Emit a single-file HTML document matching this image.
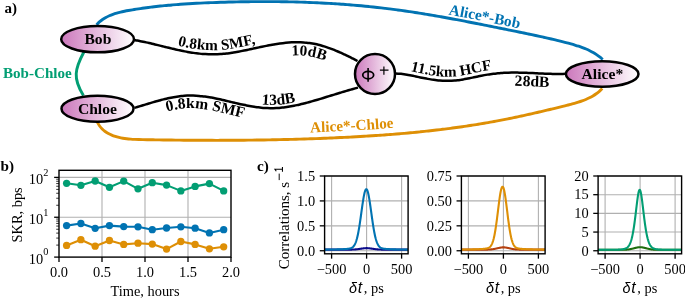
<!DOCTYPE html>
<html><head><meta charset="utf-8"><style>html,body{margin:0;padding:0;background:#fff;}svg{display:block;will-change:transform}</style></head>
<body><svg width="685" height="298" viewBox="0 0 685 298">
<defs><linearGradient id="ng" x1="0" x2="1" y1="0" y2="0"><stop offset="0" stop-color="#cc78bc"/><stop offset="1" stop-color="#ffffff"/></linearGradient>
<path id="tb" d="M93.93,22.25 L94.69,21.49 L95.8,20.37 L97.01,19.24 L98.17,18.28 L99.32,17.39 L100.49,16.55 L101.68,15.75 L102.89,15 L104.12,14.3 L105.36,13.64 L106.62,13.02 L107.89,12.44 L109.18,11.89 L110.47,11.38 L111.78,10.91 L113.09,10.46 L114.41,10.04 L115.73,9.64 L117.06,9.27 L118.4,8.93 L119.73,8.6 L121.08,8.29 L122.42,8 L123.76,7.72 L125.1,7.46 L126.44,7.21 L127.78,6.96 L129.12,6.72 L130.45,6.49 L131.79,6.27 L133.12,6.05 L134.45,5.83 L135.79,5.61 L137.13,5.41 L138.46,5.2 L139.8,5 L141.14,4.8 L142.48,4.61 L143.82,4.43 L145.16,4.24 L146.5,4.06 L147.84,3.89 L149.18,3.71 L150.52,3.55 L151.86,3.38 L153.2,3.22 L154.54,3.06 L155.89,2.91 L157.23,2.76 L158.57,2.61 L159.92,2.47 L161.26,2.33 L162.6,2.19 L163.95,2.06 L165.29,1.93 L166.64,1.8 L167.98,1.68 L169.33,1.56 L170.68,1.44 L172.02,1.33 L173.37,1.22 L174.72,1.11 L176.06,1 L177.41,0.9 L178.76,0.8 L180.1,0.7 L181.45,0.6 L182.8,0.51 L184.15,0.42 L185.49,0.33 L186.84,0.25 L188.19,0.16 L189.54,0.08 L190.89,0 L192.23,-0.07 L193.58,-0.15 L194.93,-0.22 L196.28,-0.29 L197.63,-0.36 L198.97,-0.43 L200.32,-0.49 L201.67,-0.56 L203.02,-0.62 L204.37,-0.68 L205.71,-0.74 L207.06,-0.79 L208.41,-0.85 L209.76,-0.9 L211.1,-0.96 L212.45,-1.01 L213.8,-1.06 L215.14,-1.11 L216.49,-1.15 L217.84,-1.2 L219.18,-1.25 L220.53,-1.29 L221.88,-1.33 L223.23,-1.37 L224.57,-1.41 L225.92,-1.45 L227.27,-1.49 L228.61,-1.53 L229.96,-1.56 L231.3,-1.6 L232.65,-1.63 L234,-1.66 L235.34,-1.69 L236.69,-1.72 L238.04,-1.75 L239.38,-1.77 L240.73,-1.8 L242.08,-1.82 L243.42,-1.85 L244.77,-1.87 L246.12,-1.89 L247.46,-1.91 L248.81,-1.92 L250.15,-1.94 L251.5,-1.95 L252.85,-1.97 L254.19,-1.98 L255.54,-1.99 L256.88,-2 L258.23,-2 L259.58,-2.01 L260.92,-2.01 L262.27,-2.02 L263.61,-2.02 L264.96,-2.02 L266.3,-2.02 L267.65,-2.02 L268.99,-2.01 L270.34,-2.01 L271.68,-2 L273.03,-1.99 L274.37,-1.98 L275.72,-1.97 L277.06,-1.96 L278.41,-1.94 L279.75,-1.92 L281.1,-1.91 L282.44,-1.89 L283.79,-1.87 L285.13,-1.84 L286.48,-1.82 L287.82,-1.8 L289.17,-1.77 L290.51,-1.74 L291.85,-1.71 L293.2,-1.68 L294.54,-1.64 L295.89,-1.61 L297.23,-1.57 L298.57,-1.54 L299.92,-1.5 L301.26,-1.45 L302.6,-1.41 L303.95,-1.37 L305.29,-1.32 L306.63,-1.27 L307.98,-1.22 L309.32,-1.17 L310.66,-1.12 L312.01,-1.06 L313.35,-1.01 L314.69,-0.95 L316.03,-0.89 L317.38,-0.83 L318.72,-0.76 L320.06,-0.7 L321.4,-0.63 L322.74,-0.56 L324.09,-0.49 L325.43,-0.42 L326.77,-0.34 L328.11,-0.27 L329.45,-0.19 L330.79,-0.11 L332.13,-0.03 L333.48,0.05 L334.82,0.14 L336.16,0.22 L337.5,0.31 L338.84,0.4 L340.18,0.5 L341.52,0.59 L342.86,0.69 L344.2,0.78 L345.54,0.88 L346.88,0.98 L348.22,1.09 L349.56,1.19 L350.9,1.3 L352.24,1.41 L353.58,1.52 L354.91,1.63 L356.25,1.75 L357.59,1.87 L358.93,1.98 L360.27,2.11 L361.61,2.23 L362.95,2.35 L364.28,2.48 L365.62,2.61 L366.96,2.74 L368.3,2.87 L369.63,3.01 L370.97,3.14 L372.31,3.28 L373.64,3.42 L374.98,3.57 L376.32,3.71 L377.65,3.86 L378.99,4.01 L380.33,4.16 L381.66,4.31 L383,4.47 L384.33,4.63 L385.67,4.78 L387,4.95 L388.34,5.11 L389.67,5.28 L391.01,5.44 L392.34,5.61 L393.68,5.79 L395.01,5.96 L396.35,6.14 L397.68,6.32 L399.01,6.5 L400.35,6.68 L401.68,6.86 L403.01,7.05 L404.35,7.24 L405.68,7.43 L407.01,7.63 L408.34,7.82 L409.67,8.02 L411,8.22 L412.33,8.42 L413.66,8.62 L415,8.82 L416.33,9.03 L417.66,9.24 L418.98,9.45 L420.31,9.66 L421.64,9.87 L422.97,10.08 L424.3,10.3 L425.63,10.52 L426.96,10.74 L428.28,10.96 L429.61,11.18 L430.94,11.4 L432.27,11.63 L433.59,11.85 L434.92,12.08 L436.25,12.31 L437.57,12.54 L438.9,12.77 L440.22,13.01 L441.55,13.24 L442.87,13.48 L444.2,13.72 L445.52,13.95 L446.85,14.19 L448.17,14.43 L449.5,14.68 L450.82,14.92 L452.14,15.16 L453.47,15.41 L454.79,15.65 L456.11,15.9 L457.44,16.15 L458.76,16.4 L460.08,16.65 L461.4,16.9 L462.72,17.15 L464.04,17.4 L465.37,17.66 L466.69,17.91 L468.01,18.17 L469.33,18.42 L470.65,18.68 L471.97,18.94 L473.29,19.19 L474.61,19.45 L475.93,19.71 L477.25,19.97 L478.56,20.23 L479.88,20.49 L481.2,20.75 L482.52,21.01 L483.84,21.28 L485.16,21.54 L486.47,21.8 L487.79,22.06 L489.11,22.33 L490.42,22.59 L491.74,22.86 L493.06,23.12 L494.37,23.39 L495.69,23.65 L497,23.92 L498.32,24.18 L499.64,24.45 L500.95,24.71 L502.27,24.98 L503.58,25.25 L504.89,25.51 L506.21,25.78 L507.52,26.04 L508.84,26.31 L510.15,26.58 L511.46,26.84 L512.78,27.11 L514.09,27.37 L515.4,27.64 L516.72,27.91 L518.03,28.17 L519.35,28.44 L520.66,28.71 L521.97,28.98 L523.29,29.25 L524.6,29.52 L525.92,29.79 L527.23,30.06 L528.54,30.33 L529.86,30.6 L531.17,30.88 L532.49,31.15 L533.8,31.43 L535.12,31.71 L536.43,31.99 L537.74,32.27 L539.06,32.55 L540.37,32.84 L541.69,33.13 L543,33.42 L544.32,33.71 L545.63,34 L546.94,34.29 L548.26,34.59 L549.57,34.89 L550.89,35.19 L552.2,35.5 L553.52,35.8 L554.83,36.11 L556.15,36.42 L557.46,36.74 L558.77,37.06 L560.09,37.38 L561.4,37.7 L562.72,38.03 L564.03,38.36 L565.35,38.69 L566.66,39.03 L567.98,39.37 L569.29,39.72 L570.61,40.07 L571.93,40.43 L573.25,40.8 L574.57,41.18 L575.89,41.57 L577.2,41.97 L578.51,42.39 L579.82,42.81 L581.12,43.26 L582.42,43.71 L583.71,44.19 L585,44.68 L586.28,45.19 L587.55,45.73 L588.81,46.28 L590.06,46.85 L591.31,47.45 L592.54,48.08 L593.76,48.72 L594.98,49.4 L596.17,50.1 L597.35,50.84 L598.52,51.6 L599.67,52.39 L600.81,53.22 L601.95,54.09 L603.16,55.1 L604.31,56.1 L605.09,56.78" fill="none"/>
<path id="to" d="M103.06,119.26 L103.58,120.19 L104.27,121.4 L104.88,122.34 L105.41,123.03 L106.03,123.75 L106.7,124.45 L107.38,125.09 L108.11,125.7 L108.89,126.29 L109.68,126.84 L110.52,127.36 L111.41,127.87 L112.31,128.34 L113.25,128.79 L114.22,129.21 L115.21,129.61 L116.22,129.98 L117.26,130.32 L118.31,130.64 L119.39,130.94 L120.49,131.21 L121.61,131.46 L122.75,131.69 L123.91,131.9 L125.08,132.09 L126.27,132.26 L127.49,132.42 L128.71,132.55 L129.96,132.67 L131.22,132.78 L132.48,132.87 L133.77,132.95 L135.07,133.02 L136.37,133.07 L137.69,133.12 L139.02,133.17 L140.36,133.2 L141.7,133.23 L143.06,133.26 L144.42,133.28 L145.78,133.3 L147.15,133.33 L148.52,133.35 L149.88,133.37 L151.25,133.39 L152.61,133.41 L153.97,133.43 L155.33,133.45 L156.69,133.47 L158.06,133.49 L159.42,133.51 L160.77,133.53 L162.13,133.55 L163.49,133.57 L164.85,133.59 L166.21,133.6 L167.56,133.62 L168.92,133.64 L170.27,133.65 L171.63,133.67 L172.98,133.68 L174.33,133.7 L175.69,133.71 L177.04,133.73 L178.39,133.74 L179.74,133.75 L181.09,133.77 L182.44,133.78 L183.79,133.79 L185.14,133.8 L186.49,133.81 L187.83,133.82 L189.18,133.83 L190.53,133.84 L191.87,133.85 L193.22,133.86 L194.56,133.87 L195.91,133.87 L197.25,133.88 L198.6,133.89 L199.94,133.89 L201.28,133.9 L202.63,133.9 L203.97,133.91 L205.31,133.91 L206.65,133.92 L207.99,133.92 L209.33,133.92 L210.67,133.92 L212.01,133.92 L213.35,133.93 L214.69,133.93 L216.03,133.93 L217.36,133.92 L218.7,133.92 L220.04,133.92 L221.37,133.92 L222.71,133.92 L224.05,133.91 L225.38,133.91 L226.72,133.91 L228.05,133.9 L229.39,133.89 L230.72,133.89 L232.06,133.88 L233.39,133.87 L234.72,133.87 L236.06,133.86 L237.39,133.85 L238.72,133.84 L240.06,133.83 L241.39,133.82 L242.72,133.81 L244.05,133.8 L245.38,133.78 L246.72,133.77 L248.05,133.76 L249.38,133.74 L250.71,133.73 L252.04,133.71 L253.37,133.7 L254.7,133.68 L256.03,133.66 L257.36,133.64 L258.69,133.62 L260.02,133.61 L261.35,133.59 L262.68,133.57 L264.01,133.54 L265.34,133.52 L266.66,133.5 L267.99,133.48 L269.32,133.45 L270.65,133.43 L271.98,133.4 L273.31,133.38 L274.64,133.35 L275.96,133.32 L277.29,133.3 L278.62,133.27 L279.95,133.24 L281.28,133.21 L282.6,133.18 L283.93,133.15 L285.26,133.12 L286.59,133.08 L287.92,133.05 L289.24,133.02 L290.57,132.98 L291.9,132.95 L293.23,132.91 L294.56,132.87 L295.88,132.84 L297.21,132.8 L298.54,132.76 L299.87,132.72 L301.2,132.68 L302.52,132.64 L303.85,132.6 L305.18,132.55 L306.51,132.51 L307.84,132.47 L309.17,132.42 L310.5,132.38 L311.82,132.33 L313.15,132.28 L314.48,132.24 L315.81,132.19 L317.14,132.14 L318.47,132.09 L319.8,132.04 L321.13,131.98 L322.46,131.93 L323.79,131.88 L325.12,131.83 L326.45,131.77 L327.78,131.71 L329.11,131.66 L330.45,131.6 L331.78,131.54 L333.11,131.48 L334.44,131.43 L335.77,131.36 L337.11,131.3 L338.44,131.24 L339.77,131.18 L341.1,131.12 L342.44,131.05 L343.77,130.99 L345.1,130.92 L346.44,130.85 L347.77,130.78 L349.1,130.71 L350.44,130.64 L351.77,130.57 L353.11,130.5 L354.44,130.43 L355.77,130.36 L357.11,130.28 L358.44,130.2 L359.78,130.13 L361.11,130.05 L362.45,129.97 L363.78,129.89 L365.11,129.81 L366.45,129.73 L367.78,129.64 L369.12,129.56 L370.45,129.47 L371.79,129.39 L373.12,129.3 L374.46,129.21 L375.79,129.12 L377.13,129.03 L378.46,128.94 L379.8,128.85 L381.13,128.75 L382.46,128.65 L383.8,128.56 L385.13,128.46 L386.47,128.36 L387.8,128.26 L389.13,128.16 L390.47,128.05 L391.8,127.95 L393.14,127.84 L394.47,127.74 L395.8,127.63 L397.14,127.52 L398.47,127.41 L399.8,127.29 L401.13,127.18 L402.47,127.06 L403.8,126.95 L405.13,126.83 L406.46,126.71 L407.79,126.59 L409.13,126.46 L410.46,126.34 L411.79,126.21 L413.12,126.09 L414.45,125.96 L415.78,125.83 L417.11,125.7 L418.44,125.56 L419.77,125.43 L421.1,125.29 L422.43,125.16 L423.76,125.02 L425.08,124.88 L426.41,124.73 L427.74,124.59 L429.07,124.44 L430.39,124.3 L431.72,124.15 L433.05,124 L434.37,123.85 L435.7,123.69 L437.02,123.54 L438.35,123.38 L439.67,123.22 L441,123.06 L442.32,122.9 L443.65,122.73 L444.97,122.57 L446.29,122.4 L447.61,122.23 L448.93,122.06 L450.26,121.88 L451.58,121.71 L452.9,121.53 L454.22,121.35 L455.54,121.17 L456.85,120.99 L458.17,120.81 L459.49,120.62 L460.81,120.43 L462.12,120.24 L463.44,120.05 L464.76,119.86 L466.07,119.66 L467.39,119.47 L468.7,119.27 L470.01,119.06 L471.33,118.86 L472.64,118.66 L473.95,118.45 L475.26,118.24 L476.57,118.03 L477.88,117.81 L479.19,117.6 L480.5,117.38 L481.81,117.16 L483.12,116.94 L484.43,116.71 L485.73,116.49 L487.04,116.26 L488.34,116.03 L489.65,115.8 L490.95,115.56 L492.25,115.33 L493.56,115.09 L494.86,114.85 L496.16,114.6 L497.46,114.36 L498.76,114.11 L500.06,113.86 L501.36,113.61 L502.66,113.35 L503.96,113.1 L505.26,112.84 L506.56,112.58 L507.85,112.32 L509.15,112.05 L510.45,111.79 L511.75,111.52 L513.04,111.25 L514.34,110.98 L515.64,110.7 L516.93,110.43 L518.23,110.15 L519.53,109.87 L520.82,109.59 L522.12,109.31 L523.42,109.02 L524.71,108.74 L526.01,108.45 L527.31,108.16 L528.6,107.87 L529.9,107.58 L531.2,107.28 L532.5,106.99 L533.79,106.69 L535.09,106.39 L536.39,106.09 L537.69,105.79 L538.99,105.49 L540.29,105.19 L541.59,104.88 L542.89,104.57 L544.19,104.27 L545.49,103.96 L546.79,103.65 L548.09,103.33 L549.39,103.02 L550.7,102.71 L552,102.39 L553.3,102.08 L554.61,101.76 L555.91,101.44 L557.22,101.12 L558.52,100.8 L559.83,100.48 L561.14,100.16 L562.45,99.83 L563.75,99.51 L565.06,99.19 L566.36,98.86 L567.65,98.53 L568.93,98.2 L570.2,97.87 L571.47,97.53 L572.71,97.18 L573.96,96.83 L575.18,96.46 L576.39,96.09 L577.59,95.7 L578.78,95.3 L579.94,94.89 L581.1,94.47 L582.23,94.03 L583.34,93.57 L584.44,93.1 L585.52,92.6 L586.57,92.09 L587.62,91.56 L588.63,91.01 L589.63,90.44 L590.61,89.84 L591.56,89.22 L592.49,88.57 L593.41,87.9 L594.3,87.2 L595.13,86.51 L596.06,85.65 L597.07,84.66 L597.82,83.93" fill="none"/>
<path id="t1" d="M135.1,35.96 L135.5,36.03 L136.06,36.12 L136.72,36.24 L137.42,36.35 L138.07,36.47 L138.67,36.58 L139.27,36.69 L139.87,36.8 L140.47,36.92 L141.06,37.03 L141.66,37.15 L142.26,37.27 L142.86,37.39 L143.46,37.51 L144.05,37.64 L144.65,37.76 L145.25,37.89 L145.84,38.02 L146.44,38.15 L147.03,38.28 L147.63,38.41 L148.23,38.54 L148.82,38.67 L149.42,38.81 L150.01,38.95 L150.61,39.08 L151.2,39.22 L151.79,39.36 L152.39,39.5 L152.98,39.64 L153.58,39.78 L154.17,39.92 L154.76,40.07 L155.36,40.21 L155.95,40.35 L156.54,40.5 L157.14,40.64 L157.73,40.79 L158.32,40.93 L158.91,41.08 L159.5,41.22 L160.1,41.37 L160.69,41.52 L161.28,41.66 L161.87,41.81 L162.46,41.96 L163.05,42.1 L163.64,42.25 L164.23,42.4 L164.82,42.54 L165.41,42.69 L166,42.84 L166.59,42.98 L167.18,43.13 L167.77,43.27 L168.36,43.42 L168.95,43.56 L169.54,43.71 L170.13,43.85 L170.72,43.99 L171.3,44.13 L171.89,44.28 L172.48,44.42 L173.07,44.56 L173.66,44.7 L174.24,44.83 L174.83,44.97 L175.42,45.11 L176,45.24 L176.59,45.38 L177.18,45.51 L177.76,45.64 L178.35,45.78 L178.94,45.91 L179.52,46.03 L180.11,46.16 L180.69,46.29 L181.28,46.41 L181.86,46.54 L182.45,46.66 L183.03,46.78 L183.62,46.9 L184.2,47.01 L184.79,47.13 L185.37,47.24 L185.95,47.36 L186.54,47.47 L187.12,47.58 L187.7,47.68 L188.29,47.79 L188.87,47.89 L189.45,47.99 L190.03,48.09 L190.62,48.19 L191.2,48.28 L191.78,48.38 L192.36,48.47 L192.94,48.55 L193.52,48.64 L194.11,48.73 L194.69,48.81 L195.27,48.89 L195.85,48.96 L196.43,49.04 L197.01,49.11 L197.59,49.18 L198.18,49.25 L198.76,49.32 L199.34,49.38 L199.92,49.44 L200.5,49.5 L201.08,49.56 L201.66,49.61 L202.24,49.66 L202.82,49.71 L203.4,49.76 L203.98,49.8 L204.56,49.84 L205.13,49.88 L205.71,49.92 L206.29,49.95 L206.87,49.98 L207.45,50.01 L208.03,50.03 L208.6,50.06 L209.18,50.07 L209.76,50.09 L210.34,50.11 L210.91,50.12 L211.49,50.13 L212.07,50.13 L212.64,50.13 L213.22,50.13 L213.79,50.13 L214.37,50.13 L214.94,50.12 L215.52,50.1 L216.09,50.09 L216.67,50.07 L217.24,50.05 L217.81,50.03 L218.39,50 L218.96,49.97 L219.54,49.94 L220.11,49.9 L220.68,49.86 L221.25,49.82 L221.83,49.77 L222.4,49.72 L222.98,49.67 L223.55,49.62 L224.12,49.56 L224.7,49.5 L225.27,49.44 L225.85,49.37 L226.43,49.3 L227,49.23 L227.58,49.16 L228.16,49.08 L228.73,49.01 L229.31,48.92 L229.89,48.84 L230.47,48.76 L231.05,48.67 L231.63,48.58 L232.2,48.49 L232.78,48.4 L233.36,48.3 L233.95,48.2 L234.53,48.1 L235.11,48 L235.69,47.9 L236.27,47.8 L236.85,47.69 L237.44,47.58 L238.02,47.47 L238.6,47.36 L239.19,47.25 L239.77,47.14 L240.36,47.02 L240.94,46.91 L241.53,46.79 L242.12,46.67 L242.7,46.55 L243.29,46.43 L243.88,46.31 L244.47,46.19 L245.05,46.07 L245.64,45.94 L246.23,45.82 L246.82,45.69 L247.41,45.57 L248,45.44 L248.6,45.31 L249.19,45.18 L249.78,45.06 L250.37,44.93 L250.97,44.8 L251.56,44.67 L252.15,44.54 L252.75,44.42 L253.34,44.29 L253.94,44.16 L254.53,44.03 L255.13,43.9 L255.73,43.77 L256.32,43.64 L256.92,43.51 L257.52,43.39 L258.11,43.26 L258.71,43.13 L259.31,43 L259.91,42.88 L260.51,42.75 L261.11,42.63 L261.71,42.5 L262.31,42.38 L262.91,42.25 L263.51,42.13 L264.11,42.01 L264.71,41.89 L265.31,41.77 L265.91,41.65 L266.52,41.53 L267.12,41.41 L267.72,41.3 L268.33,41.18 L268.93,41.07 L269.53,40.95 L270.14,40.84 L270.74,40.73 L271.35,40.63 L271.95,40.52 L272.56,40.41 L273.17,40.31 L273.77,40.21 L274.38,40.11 L274.99,40.01 L275.59,39.91 L276.2,39.81 L276.81,39.72 L277.42,39.63 L278.03,39.54 L278.64,39.45 L279.25,39.36 L279.85,39.28 L280.46,39.2 L281.07,39.12 L281.69,39.04 L282.3,38.97 L282.91,38.9 L283.52,38.83 L284.13,38.76 L284.74,38.69 L285.36,38.63 L285.97,38.57 L286.58,38.52 L287.19,38.46 L287.81,38.41 L288.42,38.36 L289.04,38.31 L289.65,38.27 L290.26,38.23 L290.88,38.2 L291.5,38.16 L292.11,38.13 L292.73,38.1 L293.34,38.08 L293.96,38.06 L294.58,38.04 L295.19,38.03 L295.81,38.02 L296.43,38.01 L297.05,38.01 L297.66,38.01 L298.28,38.01 L298.9,38.02 L299.52,38.03 L300.14,38.05 L300.76,38.07 L301.38,38.09 L301.99,38.12 L302.61,38.15 L303.24,38.18 L303.86,38.22 L304.48,38.27 L305.1,38.32 L305.72,38.37 L306.34,38.43 L306.96,38.49 L307.58,38.55 L308.2,38.62 L308.82,38.7 L309.44,38.78 L310.06,38.86 L310.69,38.95 L311.31,39.05 L311.93,39.15 L312.55,39.25 L313.17,39.36 L313.78,39.47 L314.4,39.59 L315.02,39.71 L315.64,39.83 L316.25,39.96 L316.87,40.1 L317.48,40.23 L318.1,40.38 L318.71,40.52 L319.32,40.67 L319.93,40.82 L320.54,40.98 L321.15,41.14 L321.76,41.31 L322.37,41.47 L322.97,41.65 L323.58,41.82 L324.19,42 L324.79,42.18 L325.39,42.37 L325.99,42.55 L326.6,42.75 L327.2,42.94 L327.8,43.14 L328.39,43.34 L328.99,43.54 L329.59,43.75 L330.19,43.96 L330.78,44.17 L331.37,44.38 L331.97,44.6 L332.56,44.82 L333.15,45.04 L333.74,45.27 L334.32,45.49 L334.91,45.72 L335.5,45.96 L336.08,46.19 L336.67,46.43 L337.25,46.66 L337.83,46.9 L338.41,47.15 L338.99,47.39 L339.57,47.64 L340.15,47.88 L340.72,48.13 L341.3,48.39 L341.87,48.64 L342.44,48.89 L343.01,49.15 L343.58,49.41 L344.15,49.67 L344.71,49.93 L345.28,50.19 L345.84,50.45 L346.41,50.72 L346.97,50.98 L347.53,51.25 L348.08,51.52 L348.64,51.79 L349.2,52.06 L349.75,52.33 L350.3,52.6 L350.86,52.87 L351.4,53.14 L351.95,53.42 L352.5,53.69 L353.05,53.97 L353.59,54.24 L354.13,54.52 L354.67,54.79 L355.21,55.07 L355.75,55.35 L356.28,55.62 L356.82,55.9 L357.39,56.2 L358.01,56.52 L358.6,56.83 L359.1,57.1 L359.45,57.28" fill="none"/>
<path id="t2" d="M132.2,53.12 L132.6,53.18 L133.16,53.28 L133.79,53.39 L134.43,53.5 L135.01,53.6 L135.54,53.69 L136.08,53.8 L136.63,53.9 L137.18,54 L137.73,54.11 L138.28,54.22 L138.83,54.33 L139.39,54.44 L139.94,54.55 L140.5,54.67 L141.06,54.79 L141.61,54.9 L142.17,55.02 L142.73,55.15 L143.3,55.27 L143.86,55.39 L144.42,55.52 L144.98,55.65 L145.55,55.77 L146.12,55.9 L146.68,56.04 L147.25,56.17 L147.82,56.3 L148.39,56.43 L148.97,56.57 L149.54,56.71 L150.11,56.84 L150.69,56.98 L151.27,57.12 L151.85,57.26 L152.42,57.4 L153,57.54 L153.58,57.69 L154.16,57.83 L154.75,57.97 L155.33,58.12 L155.91,58.26 L156.5,58.41 L157.09,58.55 L157.68,58.7 L158.27,58.84 L158.85,58.99 L159.45,59.14 L160.04,59.28 L160.63,59.43 L161.23,59.58 L161.82,59.73 L162.42,59.87 L163.02,60.02 L163.62,60.17 L164.21,60.32 L164.81,60.46 L165.41,60.61 L166.02,60.76 L166.62,60.9 L167.23,61.05 L167.83,61.2 L168.44,61.34 L169.05,61.49 L169.66,61.63 L170.27,61.77 L170.88,61.92 L171.49,62.06 L172.1,62.2 L172.72,62.34 L173.33,62.48 L173.95,62.62 L174.56,62.76 L175.18,62.9 L175.81,63.03 L176.42,63.17 L177.04,63.3 L177.67,63.43 L178.29,63.57 L178.92,63.7 L179.54,63.83 L180.17,63.95 L180.8,64.08 L181.43,64.2 L182.06,64.33 L182.69,64.45 L183.32,64.57 L183.96,64.69 L184.59,64.8 L185.23,64.92 L185.87,65.03 L186.5,65.14 L187.14,65.25 L187.79,65.36 L188.43,65.46 L189.07,65.56 L189.71,65.66 L190.36,65.76 L191,65.86 L191.65,65.95 L192.29,66.04 L192.94,66.13 L193.58,66.22 L194.23,66.3 L194.88,66.38 L195.53,66.46 L196.18,66.54 L196.83,66.61 L197.48,66.68 L198.13,66.75 L198.78,66.82 L199.44,66.88 L200.09,66.94 L200.74,67 L201.4,67.05 L202.05,67.1 L202.71,67.15 L203.36,67.2 L204.02,67.24 L204.68,67.28 L205.33,67.32 L205.99,67.36 L206.65,67.39 L207.31,67.42 L207.97,67.44 L208.63,67.47 L209.29,67.49 L209.95,67.5 L210.61,67.51 L211.28,67.52 L211.94,67.53 L212.6,67.53 L213.26,67.53 L213.93,67.53 L214.59,67.52 L215.26,67.51 L215.92,67.5 L216.59,67.48 L217.26,67.46 L217.92,67.44 L218.59,67.41 L219.26,67.38 L219.92,67.34 L220.59,67.3 L221.26,67.26 L221.93,67.22 L222.59,67.17 L223.26,67.11 L223.91,67.06 L224.57,67 L225.23,66.94 L225.89,66.87 L226.55,66.8 L227.2,66.73 L227.85,66.66 L228.51,66.58 L229.16,66.5 L229.81,66.42 L230.45,66.33 L231.1,66.24 L231.74,66.15 L232.39,66.06 L233.03,65.97 L233.67,65.87 L234.3,65.77 L234.94,65.67 L235.58,65.57 L236.22,65.47 L236.85,65.36 L237.48,65.25 L238.11,65.14 L238.74,65.03 L239.37,64.92 L239.99,64.8 L240.61,64.69 L241.24,64.57 L241.86,64.45 L242.49,64.34 L243.1,64.22 L243.72,64.09 L244.34,63.97 L244.96,63.85 L245.57,63.72 L246.18,63.6 L246.79,63.48 L247.41,63.35 L248.02,63.22 L248.63,63.09 L249.23,62.97 L249.84,62.84 L250.44,62.71 L251.05,62.58 L251.65,62.45 L252.25,62.32 L252.85,62.2 L253.45,62.07 L254.05,61.94 L254.65,61.81 L255.24,61.68 L255.84,61.55 L256.43,61.42 L257.03,61.29 L257.62,61.16 L258.21,61.04 L258.8,60.91 L259.39,60.78 L259.98,60.65 L260.57,60.53 L261.16,60.4 L261.74,60.28 L262.33,60.15 L262.92,60.03 L263.5,59.9 L264.08,59.78 L264.66,59.66 L265.24,59.54 L265.82,59.42 L266.4,59.3 L266.98,59.18 L267.55,59.06 L268.13,58.95 L268.71,58.83 L269.28,58.72 L269.85,58.61 L270.42,58.5 L271,58.39 L271.57,58.28 L272.14,58.17 L272.7,58.06 L273.27,57.96 L273.83,57.86 L274.4,57.76 L274.96,57.66 L275.52,57.56 L276.08,57.46 L276.65,57.37 L277.21,57.27 L277.77,57.18 L278.32,57.09 L278.87,57.01 L279.43,56.92 L279.99,56.84 L280.54,56.76 L281.09,56.68 L281.64,56.6 L282.19,56.52 L282.74,56.45 L283.29,56.38 L283.83,56.31 L284.37,56.24 L284.92,56.18 L285.46,56.12 L286,56.06 L286.54,56 L287.08,55.95 L287.62,55.89 L288.16,55.84 L288.69,55.8 L289.22,55.75 L289.75,55.71 L290.29,55.67 L290.82,55.63 L291.35,55.6 L291.87,55.57 L292.4,55.54 L292.93,55.51 L293.45,55.49 L293.98,55.47 L294.5,55.45 L295.01,55.44 L295.54,55.42 L296.06,55.42 L296.57,55.41 L297.09,55.41 L297.6,55.41 L298.11,55.41 L298.63,55.42 L299.14,55.43 L299.65,55.44 L300.15,55.46 L300.66,55.48 L301.17,55.5 L301.68,55.52 L302.18,55.55 L302.68,55.58 L303.18,55.62 L303.69,55.66 L304.18,55.7 L304.68,55.75 L305.18,55.8 L305.67,55.85 L306.17,55.91 L306.67,55.97 L307.16,56.03 L307.65,56.1 L308.14,56.17 L308.63,56.24 L309.13,56.32 L309.62,56.4 L310.12,56.49 L310.62,56.58 L311.11,56.67 L311.61,56.77 L312.11,56.87 L312.62,56.98 L313.12,57.09 L313.62,57.2 L314.12,57.32 L314.63,57.44 L315.14,57.56 L315.65,57.69 L316.15,57.82 L316.66,57.95 L317.17,58.09 L317.68,58.23 L318.19,58.38 L318.71,58.52 L319.22,58.68 L319.73,58.83 L320.25,58.99 L320.76,59.15 L321.28,59.31 L321.79,59.48 L322.31,59.65 L322.83,59.82 L323.35,60 L323.86,60.18 L324.38,60.36 L324.9,60.55 L325.42,60.73 L325.94,60.92 L326.46,61.12 L326.98,61.31 L327.5,61.51 L328.03,61.71 L328.55,61.92 L329.07,62.12 L329.59,62.33 L330.11,62.54 L330.63,62.76 L331.16,62.97 L331.68,63.19 L332.2,63.41 L332.72,63.63 L333.25,63.86 L333.77,64.08 L334.29,64.31 L334.81,64.54 L335.33,64.78 L335.86,65.01 L336.38,65.25 L336.9,65.48 L337.42,65.72 L337.94,65.97 L338.46,66.21 L338.98,66.45 L339.5,66.7 L340.02,66.95 L340.54,67.2 L341.06,67.45 L341.58,67.7 L342.1,67.95 L342.61,68.21 L343.13,68.46 L343.65,68.72 L344.17,68.98 L344.68,69.24 L345.2,69.5 L345.71,69.76 L346.23,70.02 L346.74,70.28 L347.25,70.55 L347.77,70.81 L348.28,71.08 L348.79,71.34 L349.33,71.62 L349.93,71.93 L350.5,72.24 L351.01,72.5 L351.36,72.69" fill="none"/>
<path id="t3" d="M138.01,119.98 L138.4,119.86 L138.95,119.7 L139.59,119.5 L140.27,119.3 L140.9,119.11 L141.49,118.93 L142.08,118.75 L142.66,118.58 L143.24,118.4 L143.82,118.22 L144.4,118.04 L144.98,117.87 L145.56,117.69 L146.14,117.51 L146.72,117.33 L147.29,117.16 L147.87,116.98 L148.45,116.8 L149.02,116.63 L149.6,116.45 L150.17,116.28 L150.75,116.1 L151.32,115.93 L151.89,115.75 L152.47,115.58 L153.04,115.41 L153.61,115.24 L154.18,115.07 L154.75,114.9 L155.32,114.73 L155.89,114.56 L156.46,114.39 L157.02,114.23 L157.59,114.06 L158.15,113.9 L158.72,113.74 L159.28,113.58 L159.85,113.42 L160.41,113.26 L160.97,113.1 L161.53,112.95 L162.09,112.8 L162.65,112.64 L163.21,112.5 L163.76,112.35 L164.32,112.2 L164.88,112.06 L165.43,111.91 L165.99,111.77 L166.54,111.63 L167.09,111.5 L167.64,111.36 L168.19,111.23 L168.74,111.1 L169.29,110.97 L169.84,110.85 L170.39,110.72 L170.93,110.6 L171.47,110.48 L172.02,110.36 L172.56,110.25 L173.1,110.14 L173.65,110.03 L174.18,109.92 L174.72,109.82 L175.26,109.72 L175.8,109.62 L176.33,109.52 L176.86,109.43 L177.39,109.34 L177.93,109.25 L178.46,109.17 L178.99,109.09 L179.51,109.01 L180.04,108.94 L180.57,108.86 L181.09,108.79 L181.62,108.73 L182.14,108.67 L182.65,108.61 L183.18,108.55 L183.7,108.5 L184.21,108.45 L184.73,108.4 L185.24,108.36 L185.75,108.32 L186.27,108.28 L186.78,108.25 L187.28,108.22 L187.79,108.2 L188.3,108.17 L188.8,108.16 L189.31,108.14 L189.81,108.13 L190.31,108.12 L190.81,108.12 L191.31,108.12 L191.82,108.12 L192.33,108.13 L192.84,108.14 L193.34,108.15 L193.85,108.17 L194.36,108.19 L194.88,108.22 L195.39,108.25 L195.9,108.28 L196.42,108.31 L196.94,108.35 L197.46,108.39 L197.98,108.43 L198.5,108.48 L199.02,108.53 L199.55,108.58 L200.08,108.64 L200.61,108.7 L201.13,108.76 L201.66,108.83 L202.2,108.89 L202.73,108.96 L203.27,109.04 L203.8,109.11 L204.34,109.19 L204.88,109.27 L205.42,109.36 L205.96,109.44 L206.51,109.53 L207.05,109.62 L207.59,109.72 L208.15,109.81 L208.7,109.91 L209.24,110.01 L209.79,110.11 L210.35,110.22 L210.9,110.32 L211.46,110.43 L212.02,110.54 L212.57,110.66 L213.13,110.77 L213.7,110.89 L214.26,111 L214.82,111.12 L215.39,111.24 L215.95,111.37 L216.52,111.49 L217.09,111.62 L217.66,111.74 L218.23,111.87 L218.81,112 L219.38,112.13 L219.96,112.27 L220.54,112.4 L221.11,112.53 L221.69,112.67 L222.27,112.8 L222.86,112.94 L223.44,113.08 L224.02,113.22 L224.61,113.35 L225.2,113.5 L225.79,113.64 L226.38,113.78 L226.97,113.92 L227.56,114.06 L228.16,114.2 L228.75,114.34 L229.35,114.48 L229.94,114.63 L230.54,114.77 L231.14,114.91 L231.75,115.05 L232.35,115.2 L232.95,115.34 L233.56,115.48 L234.17,115.62 L234.78,115.76 L235.38,115.9 L235.99,116.04 L236.6,116.18 L237.22,116.32 L237.84,116.46 L238.45,116.59 L239.07,116.73 L239.69,116.86 L240.31,117 L240.93,117.13 L241.55,117.26 L242.18,117.39 L242.8,117.52 L243.43,117.65 L244.06,117.77 L244.69,117.89 L245.32,118.02 L245.95,118.14 L246.59,118.26 L247.23,118.37 L247.86,118.49 L248.5,118.6 L249.14,118.71 L249.78,118.82 L250.43,118.93 L251.07,119.03 L251.71,119.13 L252.35,119.23 L253,119.33 L253.65,119.42 L254.3,119.51 L254.94,119.6 L255.59,119.69 L256.25,119.77 L256.9,119.85 L257.55,119.93 L258.2,120 L258.86,120.07 L259.52,120.14 L260.18,120.21 L260.83,120.27 L261.49,120.33 L262.15,120.38 L262.81,120.44 L263.48,120.48 L264.14,120.53 L264.8,120.57 L265.47,120.61 L266.13,120.64 L266.8,120.67 L267.47,120.7 L268.14,120.72 L268.81,120.74 L269.48,120.76 L270.15,120.77 L270.82,120.77 L271.5,120.78 L272.17,120.77 L272.84,120.77 L273.51,120.76 L274.18,120.75 L274.85,120.73 L275.52,120.71 L276.19,120.68 L276.86,120.65 L277.53,120.62 L278.2,120.58 L278.87,120.54 L279.53,120.49 L280.2,120.44 L280.87,120.39 L281.54,120.33 L282.2,120.27 L282.87,120.21 L283.53,120.14 L284.19,120.07 L284.85,119.99 L285.51,119.91 L286.17,119.83 L286.82,119.74 L287.48,119.65 L288.14,119.56 L288.79,119.47 L289.44,119.37 L290.09,119.27 L290.74,119.16 L291.39,119.06 L292.04,118.95 L292.68,118.83 L293.32,118.72 L293.97,118.6 L294.61,118.48 L295.25,118.36 L295.89,118.23 L296.52,118.11 L297.16,117.98 L297.8,117.85 L298.43,117.71 L299.06,117.58 L299.69,117.44 L300.32,117.3 L300.95,117.16 L301.58,117.01 L302.21,116.87 L302.83,116.72 L303.46,116.57 L304.08,116.42 L304.7,116.27 L305.32,116.12 L305.94,115.96 L306.56,115.81 L307.18,115.65 L307.79,115.49 L308.4,115.33 L309.02,115.17 L309.63,115.01 L310.24,114.84 L310.85,114.68 L311.46,114.51 L312.06,114.35 L312.67,114.18 L313.28,114.01 L313.88,113.85 L314.48,113.68 L315.08,113.51 L315.69,113.34 L316.29,113.17 L316.89,113 L317.49,112.82 L318.09,112.65 L318.68,112.48 L319.28,112.3 L319.88,112.13 L320.48,111.95 L321.07,111.78 L321.67,111.6 L322.26,111.42 L322.85,111.25 L323.45,111.07 L324.04,110.89 L324.63,110.71 L325.22,110.54 L325.81,110.36 L326.4,110.18 L326.99,110 L327.58,109.82 L328.17,109.64 L328.76,109.46 L329.34,109.28 L329.93,109.1 L330.51,108.92 L331.1,108.74 L331.68,108.56 L332.26,108.38 L332.85,108.2 L333.43,108.02 L334.01,107.84 L334.59,107.66 L335.17,107.48 L335.75,107.3 L336.33,107.12 L336.91,106.94 L337.49,106.76 L338.06,106.59 L338.64,106.41 L339.22,106.23 L339.79,106.05 L340.37,105.87 L340.94,105.7 L341.51,105.52 L342.09,105.34 L342.66,105.17 L343.23,104.99 L343.8,104.82 L344.37,104.65 L344.95,104.47 L345.52,104.3 L346.08,104.13 L346.65,103.95 L347.22,103.78 L347.79,103.61 L348.36,103.44 L348.92,103.27 L349.49,103.1 L350.05,102.94 L350.62,102.77 L351.18,102.6 L351.74,102.44 L352.3,102.27 L352.87,102.11 L353.43,101.95 L353.99,101.79 L354.55,101.63 L355.11,101.47 L355.67,101.31 L356.23,101.15 L356.79,100.99 L357.34,100.84 L357.9,100.68 L358.45,100.53 L359.04,100.37 L359.69,100.2 L360.33,100.02 L360.88,99.88 L361.27,99.77" fill="none"/>
<path id="t4" d="M133.48,104.84 L133.87,104.72 L134.42,104.56 L135.06,104.37 L135.72,104.17 L136.34,103.98 L136.91,103.81 L137.48,103.64 L138.05,103.46 L138.63,103.29 L139.2,103.11 L139.78,102.94 L140.35,102.76 L140.93,102.58 L141.51,102.41 L142.08,102.23 L142.66,102.05 L143.24,101.87 L143.82,101.7 L144.4,101.52 L144.99,101.34 L145.57,101.16 L146.15,100.99 L146.73,100.81 L147.32,100.63 L147.9,100.45 L148.49,100.28 L149.07,100.1 L149.66,99.93 L150.25,99.75 L150.84,99.58 L151.42,99.4 L152.01,99.23 L152.6,99.06 L153.19,98.89 L153.79,98.72 L154.38,98.55 L154.97,98.38 L155.56,98.21 L156.16,98.04 L156.75,97.88 L157.34,97.71 L157.94,97.55 L158.53,97.39 L159.13,97.23 L159.73,97.07 L160.32,96.91 L160.92,96.76 L161.52,96.61 L162.12,96.45 L162.72,96.3 L163.32,96.15 L163.92,96.01 L164.52,95.86 L165.12,95.72 L165.72,95.58 L166.32,95.44 L166.93,95.3 L167.53,95.17 L168.13,95.04 L168.74,94.91 L169.34,94.78 L169.95,94.66 L170.55,94.54 L171.16,94.42 L171.76,94.3 L172.37,94.18 L172.98,94.07 L173.59,93.96 L174.19,93.86 L174.8,93.76 L175.41,93.66 L176.02,93.56 L176.63,93.47 L177.24,93.38 L177.85,93.29 L178.46,93.2 L179.07,93.12 L179.69,93.05 L180.3,92.97 L180.91,92.9 L181.52,92.84 L182.14,92.77 L182.75,92.72 L183.36,92.66 L183.98,92.61 L184.59,92.56 L185.21,92.52 L185.82,92.48 L186.44,92.44 L187.06,92.41 L187.67,92.39 L188.29,92.36 L188.9,92.35 L189.52,92.33 L190.14,92.32 L190.76,92.32 L191.37,92.32 L191.99,92.32 L192.6,92.33 L193.22,92.35 L193.83,92.36 L194.45,92.38 L195.06,92.41 L195.68,92.44 L196.29,92.47 L196.9,92.51 L197.52,92.55 L198.13,92.59 L198.74,92.64 L199.35,92.69 L199.96,92.75 L200.57,92.81 L201.18,92.87 L201.79,92.93 L202.4,93 L203.01,93.07 L203.62,93.15 L204.23,93.23 L204.84,93.31 L205.44,93.39 L206.05,93.47 L206.66,93.56 L207.26,93.65 L207.87,93.75 L208.48,93.84 L209.08,93.94 L209.69,94.04 L210.29,94.15 L210.89,94.25 L211.5,94.36 L212.1,94.47 L212.7,94.58 L213.31,94.7 L213.91,94.81 L214.51,94.93 L215.11,95.05 L215.71,95.17 L216.31,95.29 L216.91,95.42 L217.51,95.54 L218.11,95.67 L218.71,95.8 L219.31,95.93 L219.91,96.06 L220.51,96.19 L221.11,96.32 L221.71,96.46 L222.3,96.59 L222.9,96.73 L223.5,96.87 L224.09,97 L224.69,97.14 L225.29,97.28 L225.88,97.42 L226.48,97.56 L227.07,97.7 L227.67,97.84 L228.26,97.98 L228.86,98.12 L229.45,98.27 L230.04,98.41 L230.64,98.55 L231.23,98.69 L231.82,98.83 L232.41,98.97 L233.01,99.11 L233.6,99.26 L234.19,99.4 L234.78,99.54 L235.37,99.68 L235.96,99.81 L236.55,99.95 L237.14,100.09 L237.73,100.23 L238.32,100.36 L238.91,100.5 L239.5,100.63 L240.09,100.77 L240.68,100.9 L241.27,101.03 L241.86,101.16 L242.44,101.29 L243.03,101.42 L243.62,101.55 L244.2,101.67 L244.79,101.79 L245.38,101.92 L245.96,102.04 L246.55,102.16 L247.13,102.27 L247.72,102.39 L248.3,102.5 L248.89,102.61 L249.47,102.72 L250.06,102.83 L250.64,102.93 L251.22,103.04 L251.81,103.14 L252.39,103.24 L252.97,103.33 L253.56,103.43 L254.14,103.52 L254.72,103.61 L255.3,103.7 L255.89,103.78 L256.47,103.86 L257.05,103.94 L257.63,104.02 L258.21,104.09 L258.79,104.16 L259.37,104.23 L259.95,104.3 L260.53,104.36 L261.11,104.42 L261.69,104.48 L262.27,104.54 L262.85,104.59 L263.43,104.64 L264.01,104.68 L264.59,104.72 L265.17,104.76 L265.74,104.8 L266.32,104.83 L266.9,104.86 L267.48,104.89 L268.05,104.91 L268.63,104.93 L269.21,104.95 L269.78,104.96 L270.36,104.97 L270.93,104.97 L271.51,104.98 L272.08,104.97 L272.66,104.97 L273.23,104.96 L273.81,104.95 L274.39,104.94 L274.96,104.92 L275.54,104.89 L276.11,104.87 L276.69,104.84 L277.26,104.81 L277.84,104.77 L278.41,104.73 L278.99,104.69 L279.56,104.64 L280.14,104.59 L280.71,104.54 L281.29,104.49 L281.86,104.43 L282.44,104.36 L283.01,104.3 L283.59,104.23 L284.17,104.16 L284.74,104.08 L285.32,104 L285.9,103.92 L286.47,103.84 L287.05,103.75 L287.63,103.66 L288.2,103.57 L288.78,103.47 L289.36,103.38 L289.94,103.27 L290.51,103.17 L291.09,103.07 L291.67,102.96 L292.25,102.85 L292.82,102.73 L293.4,102.62 L293.98,102.5 L294.56,102.38 L295.14,102.26 L295.72,102.13 L296.3,102.01 L296.87,101.88 L297.45,101.75 L298.03,101.62 L298.61,101.48 L299.19,101.35 L299.77,101.21 L300.35,101.07 L300.93,100.93 L301.51,100.78 L302.09,100.64 L302.67,100.49 L303.25,100.34 L303.83,100.19 L304.41,100.04 L304.99,99.89 L305.57,99.74 L306.15,99.58 L306.73,99.43 L307.31,99.27 L307.89,99.11 L308.47,98.95 L309.05,98.79 L309.63,98.63 L310.21,98.47 L310.79,98.3 L311.37,98.14 L311.95,97.97 L312.53,97.81 L313.11,97.64 L313.69,97.47 L314.27,97.31 L314.85,97.14 L315.43,96.97 L316.01,96.8 L316.59,96.62 L317.17,96.45 L317.75,96.28 L318.33,96.11 L318.91,95.93 L319.49,95.76 L320.07,95.59 L320.65,95.41 L321.23,95.24 L321.81,95.06 L322.39,94.88 L322.97,94.71 L323.55,94.53 L324.13,94.35 L324.71,94.18 L325.29,94 L325.87,93.82 L326.44,93.64 L327.02,93.46 L327.6,93.28 L328.18,93.1 L328.76,92.93 L329.34,92.75 L329.92,92.57 L330.5,92.39 L331.08,92.21 L331.66,92.03 L332.24,91.85 L332.82,91.67 L333.4,91.49 L333.97,91.31 L334.55,91.13 L335.13,90.95 L335.71,90.78 L336.29,90.6 L336.87,90.42 L337.45,90.24 L338.03,90.06 L338.61,89.89 L339.19,89.71 L339.77,89.53 L340.35,89.36 L340.93,89.18 L341.51,89 L342.09,88.83 L342.67,88.65 L343.25,88.48 L343.83,88.31 L344.4,88.13 L344.98,87.96 L345.57,87.79 L346.14,87.62 L346.72,87.45 L347.3,87.28 L347.89,87.11 L348.47,86.94 L349.05,86.77 L349.63,86.6 L350.21,86.44 L350.79,86.27 L351.37,86.1 L351.95,85.94 L352.53,85.78 L353.11,85.62 L353.69,85.46 L354.27,85.29 L354.9,85.12 L355.58,84.94 L356.22,84.77 L356.78,84.62 L357.17,84.51" fill="none"/>
<path id="t5" d="M395.03,69.39 L395.35,69.4 L395.8,69.4 L396.35,69.4 L396.96,69.41 L397.59,69.42 L398.18,69.44 L398.74,69.46 L399.28,69.49 L399.82,69.53 L400.36,69.57 L400.89,69.61 L401.42,69.66 L401.95,69.71 L402.49,69.77 L403.02,69.83 L403.54,69.9 L404.07,69.96 L404.59,70.03 L405.11,70.11 L405.64,70.18 L406.16,70.27 L406.68,70.35 L407.2,70.43 L407.71,70.52 L408.23,70.61 L408.75,70.7 L409.26,70.8 L409.77,70.9 L410.28,70.99 L410.78,71.09 L411.3,71.19 L411.81,71.3 L412.31,71.4 L412.82,71.51 L413.32,71.61 L413.82,71.72 L414.32,71.83 L414.82,71.93 L415.32,72.04 L415.82,72.15 L416.31,72.26 L416.81,72.37 L417.3,72.48 L417.8,72.59 L418.29,72.69 L418.78,72.8 L419.27,72.91 L419.76,73.01 L420.25,73.12 L420.74,73.22 L421.23,73.33 L421.72,73.43 L422.2,73.53 L422.69,73.63 L423.17,73.73 L423.66,73.83 L424.14,73.93 L424.63,74.02 L425.11,74.12 L425.6,74.21 L426.08,74.3 L426.57,74.39 L427.05,74.48 L427.54,74.57 L428.02,74.66 L428.5,74.74 L428.99,74.83 L429.47,74.91 L429.95,74.99 L430.44,75.07 L430.92,75.15 L431.4,75.22 L431.88,75.3 L432.37,75.37 L432.85,75.44 L433.33,75.51 L433.81,75.58 L434.29,75.64 L434.77,75.71 L435.25,75.77 L435.73,75.83 L436.21,75.89 L436.69,75.94 L437.17,76 L437.65,76.05 L438.13,76.1 L438.61,76.15 L439.08,76.19 L439.56,76.24 L440.04,76.28 L440.52,76.32 L440.99,76.36 L441.47,76.39 L441.95,76.42 L442.42,76.45 L442.9,76.48 L443.37,76.51 L443.85,76.53 L444.33,76.55 L444.8,76.57 L445.27,76.59 L445.75,76.6 L446.22,76.61 L446.7,76.62 L447.17,76.62 L447.64,76.63 L448.12,76.63 L448.59,76.63 L449.06,76.62 L449.53,76.61 L450.01,76.6 L450.48,76.59 L450.95,76.57 L451.42,76.55 L451.89,76.53 L452.36,76.51 L452.83,76.48 L453.3,76.45 L453.77,76.42 L454.24,76.38 L454.71,76.34 L455.18,76.3 L455.65,76.25 L456.13,76.2 L456.6,76.15 L457.07,76.1 L457.55,76.04 L458.02,75.98 L458.49,75.92 L458.97,75.85 L459.45,75.78 L459.93,75.71 L460.4,75.64 L460.88,75.57 L461.36,75.49 L461.84,75.41 L462.33,75.33 L462.81,75.24 L463.29,75.16 L463.77,75.07 L464.25,74.98 L464.74,74.89 L465.23,74.8 L465.71,74.71 L466.2,74.61 L466.69,74.52 L467.17,74.42 L467.66,74.32 L468.16,74.22 L468.65,74.12 L469.14,74.02 L469.63,73.91 L470.12,73.81 L470.61,73.71 L471.11,73.6 L471.6,73.49 L472.1,73.39 L472.59,73.28 L473.09,73.18 L473.59,73.07 L474.09,72.96 L474.59,72.85 L475.08,72.75 L475.58,72.64 L476.08,72.53 L476.59,72.42 L477.09,72.32 L477.59,72.21 L478.1,72.11 L478.6,72 L479.1,71.9 L479.61,71.79 L480.12,71.69 L480.63,71.59 L481.14,71.49 L481.64,71.39 L482.15,71.29 L482.66,71.19 L483.17,71.1 L483.69,71 L484.2,70.91 L484.71,70.82 L485.22,70.73 L485.74,70.64 L486.25,70.56 L486.76,70.47 L487.28,70.39 L487.79,70.31 L488.31,70.23 L488.82,70.15 L489.33,70.08 L489.85,70 L490.36,69.93 L490.87,69.86 L491.39,69.79 L491.9,69.73 L492.42,69.66 L492.93,69.6 L493.44,69.54 L493.96,69.48 L494.47,69.42 L494.99,69.36 L495.5,69.31 L496.02,69.25 L496.53,69.2 L497.04,69.15 L497.56,69.1 L498.07,69.06 L498.59,69.01 L499.1,68.97 L499.62,68.93 L500.13,68.89 L500.65,68.85 L501.16,68.81 L501.68,68.78 L502.19,68.74 L502.71,68.71 L503.22,68.68 L503.74,68.65 L504.25,68.62 L504.77,68.6 L505.28,68.57 L505.8,68.55 L506.31,68.53 L506.83,68.51 L507.34,68.49 L507.86,68.48 L508.37,68.46 L508.89,68.45 L509.4,68.44 L509.92,68.43 L510.43,68.42 L510.94,68.41 L511.46,68.4 L511.97,68.39 L512.48,68.39 L513,68.39 L513.51,68.38 L514.02,68.38 L514.54,68.38 L515.05,68.38 L515.56,68.39 L516.08,68.39 L516.59,68.39 L517.1,68.4 L517.61,68.41 L518.12,68.41 L518.64,68.42 L519.15,68.43 L519.66,68.44 L520.17,68.45 L520.68,68.46 L521.19,68.47 L521.7,68.49 L522.21,68.5 L522.72,68.51 L523.23,68.53 L523.74,68.54 L524.25,68.56 L524.76,68.58 L525.27,68.6 L525.78,68.61 L526.29,68.63 L526.8,68.65 L527.31,68.67 L527.82,68.69 L528.33,68.71 L528.83,68.73 L529.34,68.75 L529.85,68.77 L530.36,68.79 L530.86,68.82 L531.37,68.84 L531.88,68.86 L532.39,68.88 L532.89,68.91 L533.4,68.93 L533.91,68.95 L534.41,68.98 L534.92,69 L535.42,69.02 L535.93,69.05 L536.43,69.07 L536.94,69.09 L537.45,69.12 L537.95,69.14 L538.45,69.16 L538.96,69.19 L539.46,69.21 L539.97,69.23 L540.47,69.26 L540.97,69.28 L541.48,69.3 L541.98,69.32 L542.48,69.34 L542.99,69.37 L543.49,69.39 L543.99,69.41 L544.49,69.43 L544.99,69.45 L545.49,69.47 L546,69.49 L546.5,69.51 L547,69.52 L547.5,69.54 L548,69.56 L548.5,69.57 L549,69.59 L549.5,69.61 L550,69.62 L550.5,69.63 L550.99,69.65 L551.49,69.66 L551.99,69.67 L552.49,69.68 L552.99,69.69 L553.48,69.7 L553.98,69.71 L554.48,69.72 L554.98,69.72 L555.47,69.73 L555.97,69.74 L556.46,69.74 L556.96,69.74 L557.45,69.74 L557.95,69.75 L558.45,69.75 L558.94,69.74 L559.43,69.74 L559.93,69.74 L560.42,69.73 L560.92,69.73 L561.41,69.72 L561.9,69.71 L562.39,69.7 L562.88,69.69 L563.4,69.68 L563.97,69.66 L564.54,69.64 L565.08,69.63 L565.53,69.61 L565.86,69.6" fill="none"/>
<path id="t6" d="M394.91,86.89 L395.26,86.9 L395.73,86.9 L396.22,86.9 L396.72,86.9 L397.16,86.91 L397.5,86.92 L397.83,86.94 L398.21,86.96 L398.59,86.98 L398.98,87.01 L399.38,87.05 L399.78,87.08 L400.17,87.12 L400.56,87.16 L400.96,87.21 L401.37,87.26 L401.79,87.31 L402.2,87.37 L402.61,87.43 L403.02,87.49 L403.44,87.55 L403.87,87.62 L404.31,87.69 L404.75,87.77 L405.18,87.84 L405.6,87.92 L406.04,88 L406.49,88.09 L406.95,88.17 L407.4,88.26 L407.85,88.35 L408.3,88.44 L408.76,88.54 L409.22,88.63 L409.7,88.73 L410.18,88.84 L410.64,88.93 L411.11,89.04 L411.59,89.14 L412.07,89.25 L412.57,89.35 L413.07,89.46 L413.55,89.57 L414.04,89.68 L414.53,89.79 L415.04,89.9 L415.55,90.01 L416.07,90.12 L416.58,90.23 L417.09,90.34 L417.6,90.45 L418.12,90.56 L418.64,90.67 L419.17,90.78 L419.69,90.88 L420.21,90.99 L420.73,91.09 L421.26,91.2 L421.79,91.3 L422.31,91.4 L422.84,91.5 L423.37,91.6 L423.9,91.7 L424.43,91.79 L424.96,91.89 L425.49,91.98 L426.03,92.08 L426.56,92.17 L427.09,92.26 L427.63,92.34 L428.17,92.43 L428.71,92.52 L429.25,92.6 L429.78,92.68 L430.32,92.76 L430.87,92.84 L431.41,92.91 L431.96,92.99 L432.5,93.06 L433.04,93.13 L433.59,93.2 L434.14,93.26 L434.69,93.33 L435.24,93.39 L435.79,93.45 L436.34,93.51 L436.89,93.56 L437.45,93.62 L438,93.67 L438.56,93.72 L439.12,93.76 L439.67,93.81 L440.23,93.85 L440.79,93.89 L441.35,93.92 L441.92,93.95 L442.48,93.98 L443.04,94.01 L443.6,94.04 L444.17,94.06 L444.73,94.08 L445.3,94.09 L445.87,94.11 L446.44,94.12 L447.01,94.12 L447.58,94.13 L448.15,94.13 L448.73,94.13 L449.3,94.12 L449.87,94.11 L450.44,94.1 L451.02,94.08 L451.6,94.06 L452.18,94.04 L452.76,94.01 L453.34,93.98 L453.91,93.95 L454.49,93.91 L455.08,93.87 L455.66,93.82 L456.25,93.77 L456.83,93.72 L457.41,93.66 L457.98,93.6 L458.55,93.54 L459.12,93.48 L459.69,93.41 L460.27,93.33 L460.84,93.26 L461.4,93.18 L461.95,93.1 L462.5,93.02 L463.07,92.94 L463.63,92.85 L464.18,92.76 L464.73,92.67 L465.27,92.58 L465.81,92.48 L466.36,92.39 L466.9,92.29 L467.44,92.19 L467.98,92.09 L468.51,91.99 L469.03,91.89 L469.57,91.79 L470.1,91.68 L470.63,91.57 L471.15,91.47 L471.67,91.36 L472.18,91.26 L472.7,91.15 L473.23,91.04 L473.74,90.93 L474.25,90.82 L474.75,90.72 L475.26,90.61 L475.77,90.5 L476.28,90.39 L476.78,90.28 L477.28,90.17 L477.77,90.07 L478.26,89.96 L478.75,89.86 L479.25,89.75 L479.74,89.64 L480.23,89.54 L480.71,89.44 L481.19,89.34 L481.67,89.24 L482.16,89.14 L482.64,89.04 L483.11,88.94 L483.58,88.85 L484.04,88.75 L484.51,88.66 L484.99,88.57 L485.45,88.48 L485.92,88.39 L486.37,88.3 L486.83,88.22 L487.28,88.14 L487.74,88.05 L488.2,87.97 L488.66,87.9 L489.11,87.82 L489.57,87.75 L490.02,87.67 L490.48,87.6 L490.93,87.53 L491.39,87.46 L491.84,87.4 L492.3,87.33 L492.76,87.27 L493.21,87.2 L493.67,87.14 L494.13,87.08 L494.59,87.03 L495.04,86.97 L495.5,86.91 L495.96,86.86 L496.42,86.81 L496.87,86.76 L497.33,86.71 L497.79,86.66 L498.25,86.62 L498.71,86.57 L499.17,86.53 L499.62,86.49 L500.08,86.45 L500.54,86.41 L501,86.37 L501.46,86.34 L501.92,86.3 L502.38,86.27 L502.84,86.24 L503.3,86.21 L503.76,86.18 L504.23,86.15 L504.69,86.13 L505.15,86.1 L505.61,86.08 L506.07,86.06 L506.54,86.04 L507,86.02 L507.46,86 L507.93,85.98 L508.4,85.97 L508.86,85.96 L509.33,85.94 L509.8,85.93 L510.26,85.92 L510.73,85.91 L511.21,85.91 L511.68,85.9 L512.15,85.89 L512.62,85.89 L513.09,85.89 L513.57,85.88 L514.04,85.88 L514.52,85.88 L514.99,85.88 L515.47,85.89 L515.95,85.89 L516.42,85.89 L516.91,85.9 L517.39,85.9 L517.87,85.91 L518.35,85.92 L518.83,85.93 L519.31,85.94 L519.79,85.95 L520.28,85.96 L520.76,85.97 L521.25,85.98 L521.73,85.99 L522.22,86.01 L522.71,86.02 L523.2,86.04 L523.69,86.05 L524.17,86.07 L524.66,86.08 L525.15,86.1 L525.65,86.12 L526.14,86.14 L526.63,86.16 L527.13,86.18 L527.62,86.2 L528.11,86.22 L528.61,86.24 L529.11,86.26 L529.61,86.28 L530.1,86.3 L530.6,86.32 L531.1,86.34 L531.6,86.37 L532.1,86.39 L532.6,86.41 L533.1,86.43 L533.6,86.46 L534.11,86.48 L534.61,86.5 L535.12,86.53 L535.62,86.55 L536.13,86.57 L536.63,86.6 L537.14,86.62 L537.65,86.65 L538.16,86.67 L538.67,86.69 L539.17,86.72 L539.68,86.74 L540.19,86.76 L540.71,86.78 L541.22,86.81 L541.73,86.83 L542.24,86.85 L542.76,86.87 L543.27,86.89 L543.79,86.91 L544.31,86.93 L544.82,86.95 L545.34,86.97 L545.85,86.99 L546.37,87.01 L546.89,87.03 L547.42,87.05 L547.93,87.07 L548.45,87.08 L548.97,87.1 L549.5,87.11 L550.02,87.13 L550.55,87.14 L551.07,87.15 L551.59,87.17 L552.12,87.18 L552.64,87.19 L553.17,87.2 L553.7,87.21 L554.23,87.22 L554.75,87.22 L555.28,87.23 L555.81,87.23 L556.34,87.24 L556.87,87.24 L557.4,87.24 L557.93,87.25 L558.47,87.25 L559,87.24 L559.54,87.24 L560.07,87.24 L560.6,87.23 L561.14,87.23 L561.67,87.22 L562.21,87.21 L562.75,87.2 L563.3,87.19 L563.89,87.17 L564.51,87.15 L565.11,87.13 L565.66,87.12 L566.11,87.1 L566.44,87.09" fill="none"/></defs>
<path d="M84,51.8 C74.75,69.14 72.69,78.41 83.4,95.4" fill="none" stroke="#029e73" stroke-width="2.9"/>
<path d="M96.49,24.79 C96.97,24.31 98.4,22.82 99.4,21.94 C100.41,21.06 101.46,20.25 102.53,19.51 C103.61,18.76 104.72,18.08 105.86,17.45 C106.99,16.83 108.16,16.26 109.35,15.73 C110.53,15.21 111.75,14.74 112.98,14.3 C114.21,13.86 115.46,13.47 116.73,13.1 C117.99,12.74 119.27,12.41 120.57,12.1 C121.86,11.79 123.16,11.52 124.47,11.25 C125.78,10.99 127.1,10.74 128.42,10.51 C129.74,10.27 131.06,10.04 132.38,9.82 C133.7,9.6 135.03,9.38 136.35,9.17 C137.68,8.96 139,8.76 140.33,8.56 C141.66,8.37 142.98,8.18 144.31,7.99 C145.64,7.81 146.97,7.63 148.3,7.46 C149.63,7.28 150.96,7.12 152.29,6.95 C153.62,6.79 154.96,6.64 156.29,6.49 C157.62,6.34 158.96,6.19 160.29,6.05 C161.63,5.91 162.96,5.77 164.3,5.64 C165.64,5.51 166.97,5.39 168.31,5.27 C169.65,5.14 170.99,5.03 172.32,4.92 C173.66,4.8 175,4.69 176.34,4.59 C177.68,4.49 179.02,4.39 180.36,4.29 C181.7,4.19 183.04,4.1 184.38,4.01 C185.73,3.92 187.07,3.84 188.41,3.76 C189.75,3.67 191.09,3.6 192.44,3.52 C193.78,3.44 195.12,3.37 196.46,3.3 C197.81,3.23 199.15,3.17 200.49,3.1 C201.84,3.04 203.18,2.98 204.52,2.92 C205.87,2.86 207.21,2.8 208.55,2.75 C209.9,2.69 211.24,2.64 212.59,2.59 C213.93,2.54 215.27,2.49 216.62,2.44 C217.96,2.4 219.3,2.35 220.65,2.31 C221.99,2.27 223.33,2.22 224.68,2.18 C226.02,2.14 227.36,2.11 228.71,2.07 C230.05,2.04 231.39,2 232.74,1.97 C234.08,1.94 235.42,1.91 236.77,1.88 C238.11,1.85 239.45,1.82 240.8,1.8 C242.14,1.78 243.48,1.75 244.82,1.73 C246.17,1.71 247.51,1.69 248.85,1.68 C250.19,1.66 251.54,1.65 252.88,1.63 C254.22,1.62 255.56,1.61 256.91,1.6 C258.25,1.6 259.59,1.59 260.93,1.59 C262.27,1.58 263.61,1.58 264.96,1.58 C266.3,1.58 267.64,1.58 268.98,1.59 C270.32,1.59 271.66,1.6 273,1.61 C274.35,1.62 275.69,1.63 277.03,1.64 C278.37,1.66 279.71,1.67 281.05,1.69 C282.39,1.71 283.73,1.73 285.07,1.75 C286.41,1.78 287.75,1.8 289.09,1.83 C290.43,1.86 291.77,1.89 293.11,1.92 C294.45,1.95 295.79,1.99 297.13,2.03 C298.47,2.06 299.81,2.1 301.15,2.14 C302.49,2.19 303.83,2.23 305.16,2.28 C306.5,2.33 307.84,2.38 309.18,2.43 C310.52,2.48 311.86,2.53 313.19,2.59 C314.53,2.65 315.87,2.71 317.21,2.77 C318.55,2.83 319.88,2.9 321.22,2.97 C322.56,3.03 323.9,3.1 325.23,3.18 C326.57,3.25 327.91,3.32 329.24,3.4 C330.58,3.48 331.91,3.56 333.25,3.65 C334.59,3.73 335.92,3.82 337.26,3.9 C338.59,3.99 339.93,4.09 341.26,4.18 C342.6,4.27 343.93,4.37 345.27,4.47 C346.6,4.57 347.94,4.68 349.27,4.78 C350.61,4.89 351.94,5 353.28,5.11 C354.61,5.22 355.94,5.33 357.28,5.45 C358.61,5.57 359.94,5.69 361.28,5.81 C362.61,5.94 363.94,6.06 365.27,6.19 C366.61,6.32 367.94,6.45 369.27,6.59 C370.6,6.72 371.93,6.86 373.26,7 C374.6,7.14 375.93,7.29 377.26,7.44 C378.59,7.58 379.92,7.73 381.25,7.89 C382.58,8.04 383.91,8.2 385.24,8.36 C386.57,8.52 387.9,8.68 389.23,8.85 C390.56,9.01 391.89,9.18 393.21,9.36 C394.54,9.53 395.87,9.7 397.2,9.88 C398.53,10.06 399.86,10.25 401.18,10.43 C402.51,10.62 403.84,10.8 405.16,11 C406.49,11.19 407.82,11.38 409.14,11.58 C410.47,11.77 411.8,11.97 413.12,12.18 C414.45,12.38 415.77,12.58 417.1,12.79 C418.42,13 419.75,13.21 421.07,13.42 C422.4,13.64 423.72,13.85 425.04,14.07 C426.37,14.29 427.69,14.51 429.02,14.73 C430.34,14.95 431.66,15.18 432.99,15.4 C434.31,15.63 435.63,15.86 436.95,16.09 C438.28,16.32 439.6,16.55 440.92,16.79 C442.24,17.02 443.56,17.26 444.89,17.5 C446.21,17.74 447.53,17.98 448.85,18.22 C450.17,18.46 451.49,18.7 452.81,18.95 C454.13,19.19 455.45,19.44 456.77,19.69 C458.09,19.94 459.41,20.19 460.73,20.44 C462.05,20.69 463.37,20.94 464.69,21.19 C466.01,21.45 467.32,21.7 468.64,21.96 C469.96,22.21 471.28,22.47 472.6,22.73 C473.91,22.98 475.23,23.24 476.55,23.5 C477.87,23.76 479.18,24.02 480.5,24.28 C481.82,24.54 483.13,24.81 484.45,25.07 C485.77,25.33 487.08,25.59 488.4,25.86 C489.72,26.12 491.03,26.39 492.35,26.65 C493.66,26.92 494.98,27.18 496.29,27.45 C497.61,27.71 498.92,27.98 500.24,28.24 C501.55,28.51 502.87,28.77 504.18,29.04 C505.49,29.31 506.81,29.57 508.12,29.84 C509.44,30.1 510.75,30.37 512.06,30.64 C513.38,30.9 514.69,31.17 516,31.43 C517.32,31.7 518.63,31.97 519.94,32.24 C521.25,32.5 522.57,32.77 523.88,33.04 C525.19,33.31 526.5,33.58 527.81,33.85 C529.12,34.13 530.43,34.4 531.75,34.68 C533.06,34.95 534.37,35.23 535.68,35.51 C536.99,35.79 538.3,36.07 539.61,36.36 C540.92,36.64 542.23,36.93 543.54,37.22 C544.85,37.51 546.15,37.8 547.46,38.1 C548.77,38.4 550.08,38.7 551.39,39 C552.7,39.31 554,39.61 555.31,39.93 C556.62,40.24 557.92,40.55 559.23,40.87 C560.54,41.2 561.84,41.52 563.15,41.85 C564.46,42.18 565.76,42.51 567.07,42.85 C568.37,43.2 569.68,43.54 570.97,43.9 C572.27,44.26 573.56,44.63 574.85,45.02 C576.13,45.41 577.41,45.81 578.68,46.23 C579.95,46.65 581.2,47.09 582.45,47.56 C583.69,48.03 584.92,48.51 586.13,49.03 C587.34,49.55 588.54,50.1 589.72,50.68 C590.89,51.26 592.05,51.87 593.18,52.52 C594.32,53.17 595.43,53.86 596.52,54.59 C597.6,55.32 598.67,56.09 599.7,56.9 C600.73,57.72 602.21,59.06 602.71,59.49" fill="none" stroke="#0173b2" stroke-width="2.9"/>
<path d="M97.48,122.41 C97.84,123.01 98.84,124.9 99.63,126 C100.41,127.1 101.28,128.09 102.2,129 C103.12,129.91 104.1,130.72 105.13,131.47 C106.15,132.22 107.23,132.88 108.34,133.48 C109.44,134.09 110.59,134.63 111.75,135.11 C112.91,135.6 114.11,136.03 115.32,136.42 C116.53,136.81 117.76,137.14 119.01,137.44 C120.27,137.74 121.54,137.99 122.83,138.21 C124.11,138.43 125.42,138.61 126.73,138.77 C128.05,138.93 129.38,139.05 130.72,139.16 C132.05,139.26 133.4,139.34 134.76,139.41 C136.11,139.48 137.47,139.52 138.84,139.56 C140.2,139.6 141.57,139.63 142.94,139.66 C144.31,139.68 145.68,139.7 147.05,139.73 C148.41,139.75 149.78,139.77 151.14,139.79 C152.51,139.81 153.87,139.83 155.24,139.85 C156.6,139.87 157.96,139.89 159.33,139.91 C160.69,139.93 162.05,139.95 163.41,139.97 C164.77,139.99 166.13,140 167.48,140.02 C168.84,140.04 170.2,140.05 171.55,140.07 C172.91,140.08 174.27,140.1 175.62,140.11 C176.97,140.13 178.33,140.14 179.68,140.15 C181.03,140.17 182.38,140.18 183.74,140.19 C185.09,140.2 186.44,140.21 187.79,140.22 C189.14,140.23 190.48,140.24 191.83,140.25 C193.18,140.26 194.53,140.27 195.87,140.27 C197.22,140.28 198.57,140.29 199.91,140.29 C201.26,140.3 202.6,140.3 203.95,140.31 C205.29,140.31 206.63,140.32 207.98,140.32 C209.32,140.32 210.66,140.32 212,140.32 C213.35,140.33 214.69,140.33 216.03,140.33 C217.37,140.33 218.71,140.32 220.05,140.32 C221.39,140.32 222.73,140.32 224.06,140.31 C225.4,140.31 226.74,140.31 228.08,140.3 C229.42,140.29 230.75,140.29 232.09,140.28 C233.43,140.27 234.76,140.27 236.1,140.26 C237.44,140.25 238.77,140.24 240.11,140.23 C241.44,140.22 242.78,140.21 244.11,140.2 C245.45,140.18 246.78,140.17 248.11,140.16 C249.45,140.14 250.78,140.13 252.11,140.11 C253.45,140.1 254.78,140.08 256.11,140.06 C257.45,140.04 258.78,140.02 260.11,140 C261.45,139.99 262.78,139.96 264.11,139.94 C265.44,139.92 266.77,139.9 268.11,139.88 C269.44,139.85 270.77,139.83 272.1,139.8 C273.43,139.78 274.76,139.75 276.1,139.72 C277.43,139.7 278.76,139.67 280.09,139.64 C281.42,139.61 282.75,139.58 284.08,139.55 C285.41,139.51 286.75,139.48 288.08,139.45 C289.41,139.41 290.74,139.38 292.07,139.34 C293.4,139.31 294.73,139.27 296.07,139.23 C297.4,139.2 298.73,139.16 300.06,139.12 C301.39,139.08 302.72,139.04 304.06,138.99 C305.39,138.95 306.72,138.91 308.05,138.86 C309.38,138.82 310.72,138.77 312.05,138.73 C313.38,138.68 314.71,138.63 316.05,138.58 C317.38,138.53 318.71,138.48 320.05,138.43 C321.38,138.38 322.71,138.33 324.05,138.27 C325.38,138.22 326.72,138.17 328.05,138.11 C329.39,138.05 330.72,138 332.06,137.94 C333.39,137.88 334.73,137.82 336.06,137.76 C337.4,137.7 338.74,137.64 340.07,137.57 C341.41,137.51 342.75,137.44 344.09,137.38 C345.42,137.31 346.76,137.24 348.1,137.18 C349.44,137.11 350.77,137.04 352.11,136.96 C353.45,136.89 354.79,136.82 356.13,136.75 C357.47,136.67 358.81,136.59 360.15,136.52 C361.49,136.44 362.83,136.36 364.17,136.28 C365.51,136.2 366.84,136.12 368.18,136.03 C369.52,135.95 370.86,135.86 372.2,135.77 C373.54,135.69 374.88,135.6 376.22,135.51 C377.56,135.42 378.91,135.32 380.25,135.23 C381.59,135.13 382.93,135.04 384.27,134.94 C385.61,134.84 386.95,134.74 388.29,134.64 C389.63,134.54 390.97,134.43 392.31,134.33 C393.65,134.22 394.99,134.11 396.33,134.01 C397.66,133.9 399,133.78 400.34,133.67 C401.68,133.56 403.02,133.44 404.36,133.32 C405.7,133.2 407.04,133.08 408.38,132.96 C409.72,132.84 411.05,132.71 412.39,132.59 C413.73,132.46 415.07,132.33 416.41,132.2 C417.74,132.07 419.08,131.93 420.42,131.8 C421.75,131.66 423.09,131.52 424.43,131.38 C425.76,131.24 427.1,131.1 428.43,130.95 C429.77,130.81 431.1,130.66 432.44,130.51 C433.77,130.36 435.11,130.2 436.44,130.05 C437.78,129.89 439.11,129.73 440.44,129.57 C441.77,129.41 443.11,129.25 444.44,129.08 C445.77,128.92 447.1,128.75 448.43,128.58 C449.76,128.4 451.09,128.23 452.42,128.05 C453.75,127.88 455.08,127.7 456.41,127.51 C457.74,127.33 459.06,127.15 460.39,126.96 C461.72,126.77 463.04,126.58 464.37,126.38 C465.69,126.19 467.02,125.99 468.34,125.79 C469.67,125.59 470.99,125.39 472.31,125.18 C473.64,124.98 474.96,124.77 476.28,124.56 C477.6,124.34 478.92,124.13 480.24,123.91 C481.56,123.69 482.88,123.47 484.19,123.25 C485.51,123.02 486.83,122.79 488.15,122.56 C489.46,122.33 490.78,122.1 492.09,121.86 C493.4,121.62 494.72,121.38 496.03,121.14 C497.34,120.89 498.65,120.64 499.96,120.39 C501.27,120.14 502.58,119.89 503.89,119.63 C505.2,119.38 506.51,119.11 507.82,118.85 C509.13,118.59 510.43,118.32 511.74,118.05 C513.05,117.78 514.35,117.51 515.66,117.24 C516.96,116.96 518.27,116.69 519.57,116.41 C520.88,116.13 522.18,115.84 523.49,115.56 C524.79,115.27 526.1,114.99 527.4,114.7 C528.7,114.41 530.01,114.11 531.31,113.82 C532.62,113.53 533.92,113.23 535.22,112.93 C536.53,112.63 537.83,112.33 539.14,112.03 C540.44,111.72 541.75,111.42 543.05,111.11 C544.36,110.8 545.66,110.49 546.97,110.18 C548.28,109.87 549.58,109.56 550.89,109.24 C552.2,108.93 553.51,108.61 554.81,108.3 C556.12,107.98 557.43,107.66 558.74,107.34 C560.05,107.02 561.36,106.69 562.67,106.37 C563.98,106.05 565.3,105.72 566.61,105.39 C567.92,105.07 569.24,104.74 570.54,104.4 C571.85,104.05 573.16,103.71 574.45,103.34 C575.75,102.97 577.04,102.6 578.32,102.19 C579.6,101.79 580.87,101.37 582.12,100.91 C583.37,100.46 584.61,99.98 585.83,99.47 C587.04,98.95 588.25,98.41 589.43,97.82 C590.6,97.24 591.76,96.61 592.9,95.94 C594.03,95.27 595.14,94.55 596.21,93.78 C597.29,93.01 598.34,92.2 599.35,91.32 C600.37,90.44 601.81,88.97 602.3,88.5" fill="none" stroke="#de8f05" stroke-width="2.9"/>
<path d="M134.4,40.1 C134.89,40.19 136.35,40.43 137.33,40.6 C138.31,40.78 139.28,40.96 140.26,41.15 C141.24,41.34 142.22,41.54 143.19,41.75 C144.17,41.95 145.15,42.16 146.13,42.38 C147.11,42.59 148.09,42.81 149.07,43.04 C150.05,43.26 151.03,43.49 152.01,43.73 C152.99,43.96 153.98,44.2 154.96,44.43 C155.94,44.67 156.92,44.91 157.91,45.16 C158.89,45.4 159.87,45.64 160.86,45.89 C161.84,46.13 162.83,46.38 163.81,46.62 C164.8,46.86 165.78,47.11 166.77,47.35 C167.75,47.59 168.74,47.84 169.73,48.07 C170.71,48.31 171.7,48.55 172.69,48.78 C173.68,49.02 174.67,49.25 175.66,49.47 C176.64,49.7 177.63,49.92 178.62,50.14 C179.61,50.35 180.6,50.57 181.6,50.77 C182.59,50.98 183.58,51.18 184.57,51.37 C185.56,51.56 186.56,51.75 187.55,51.92 C188.54,52.1 189.53,52.27 190.53,52.43 C191.52,52.59 192.52,52.74 193.51,52.88 C194.51,53.03 195.5,53.16 196.5,53.28 C197.49,53.4 198.49,53.52 199.49,53.62 C200.48,53.72 201.48,53.82 202.47,53.9 C203.47,53.98 204.47,54.05 205.46,54.11 C206.46,54.17 207.46,54.22 208.45,54.25 C209.45,54.29 210.44,54.31 211.44,54.33 C212.43,54.34 213.43,54.34 214.42,54.32 C215.42,54.31 216.41,54.29 217.41,54.25 C218.4,54.21 219.39,54.16 220.39,54.09 C221.38,54.02 222.37,53.94 223.36,53.85 C224.35,53.76 225.34,53.66 226.33,53.54 C227.32,53.43 228.31,53.3 229.3,53.17 C230.29,53.03 231.28,52.88 232.27,52.73 C233.26,52.58 234.25,52.41 235.24,52.24 C236.23,52.07 237.22,51.89 238.21,51.71 C239.19,51.53 240.18,51.34 241.17,51.14 C242.16,50.95 243.15,50.75 244.14,50.55 C245.13,50.34 246.11,50.13 247.1,49.93 C248.09,49.72 249.08,49.5 250.07,49.29 C251.06,49.08 252.05,48.86 253.04,48.65 C254.03,48.43 255.02,48.22 256.02,48.01 C257.01,47.79 258,47.58 258.99,47.37 C259.98,47.15 260.97,46.94 261.96,46.74 C262.96,46.53 263.95,46.33 264.94,46.13 C265.93,45.93 266.93,45.73 267.92,45.54 C268.91,45.34 269.9,45.16 270.89,44.98 C271.89,44.79 272.88,44.62 273.87,44.45 C274.86,44.28 275.86,44.12 276.85,43.96 C277.84,43.81 278.83,43.66 279.82,43.52 C280.82,43.39 281.81,43.26 282.8,43.14 C283.79,43.02 284.78,42.91 285.77,42.81 C286.76,42.71 287.75,42.62 288.74,42.55 C289.73,42.47 290.72,42.41 291.71,42.36 C292.7,42.3 293.69,42.27 294.68,42.24 C295.67,42.22 296.66,42.2 297.65,42.21 C298.64,42.21 299.62,42.23 300.61,42.26 C301.6,42.3 302.59,42.35 303.57,42.41 C304.56,42.48 305.54,42.56 306.53,42.67 C307.51,42.77 308.5,42.89 309.48,43.02 C310.47,43.16 311.45,43.32 312.43,43.49 C313.41,43.67 314.39,43.86 315.37,44.07 C316.35,44.28 317.33,44.51 318.31,44.75 C319.29,44.99 320.26,45.25 321.24,45.52 C322.21,45.79 323.18,46.08 324.15,46.38 C325.12,46.68 326.09,46.99 327.05,47.32 C328.02,47.64 328.98,47.98 329.94,48.33 C330.9,48.68 331.85,49.04 332.8,49.41 C333.76,49.78 334.71,50.16 335.65,50.55 C336.6,50.94 337.54,51.34 338.48,51.74 C339.42,52.15 340.35,52.56 341.28,52.98 C342.21,53.4 343.14,53.83 344.06,54.26 C344.98,54.69 345.9,55.13 346.81,55.57 C347.72,56.01 348.63,56.46 349.53,56.9 C350.43,57.35 351.33,57.81 352.22,58.26 C353.11,58.71 354,59.17 354.88,59.63 C355.76,60.09 357.06,60.77 357.5,61" fill="none" stroke="#000" stroke-width="2.5"/>
<path d="M134.4,107.9 C134.88,107.76 136.31,107.34 137.26,107.05 C138.22,106.76 139.18,106.47 140.14,106.17 C141.1,105.88 142.06,105.58 143.02,105.29 C143.99,104.99 144.95,104.7 145.92,104.4 C146.89,104.11 147.86,103.81 148.83,103.52 C149.8,103.22 150.77,102.93 151.74,102.65 C152.72,102.36 153.69,102.07 154.67,101.79 C155.65,101.51 156.62,101.23 157.6,100.96 C158.58,100.69 159.56,100.42 160.54,100.17 C161.53,99.91 162.51,99.65 163.49,99.41 C164.47,99.16 165.46,98.92 166.44,98.7 C167.43,98.47 168.41,98.25 169.4,98.04 C170.39,97.83 171.38,97.63 172.36,97.44 C173.35,97.25 174.34,97.08 175.33,96.91 C176.32,96.75 177.31,96.6 178.3,96.46 C179.28,96.32 180.27,96.19 181.26,96.08 C182.25,95.97 183.24,95.88 184.23,95.8 C185.22,95.72 186.21,95.66 187.2,95.61 C188.19,95.56 189.18,95.53 190.17,95.52 C191.16,95.51 192.15,95.52 193.14,95.54 C194.13,95.57 195.12,95.61 196.11,95.67 C197.1,95.72 198.09,95.8 199.07,95.88 C200.06,95.97 201.05,96.07 202.04,96.18 C203.03,96.29 204.02,96.42 205,96.56 C205.99,96.7 206.98,96.85 207.97,97 C208.95,97.16 209.94,97.33 210.93,97.51 C211.92,97.69 212.91,97.88 213.89,98.07 C214.88,98.26 215.87,98.47 216.86,98.67 C217.84,98.88 218.83,99.1 219.82,99.32 C220.81,99.53 221.79,99.76 222.78,99.99 C223.77,100.21 224.76,100.44 225.74,100.68 C226.73,100.91 227.72,101.14 228.71,101.38 C229.7,101.61 230.68,101.85 231.67,102.09 C232.66,102.32 233.65,102.56 234.64,102.79 C235.63,103.02 236.62,103.26 237.6,103.48 C238.59,103.71 239.58,103.94 240.57,104.16 C241.56,104.38 242.55,104.59 243.54,104.8 C244.53,105.01 245.52,105.22 246.51,105.41 C247.5,105.61 248.49,105.8 249.48,105.98 C250.47,106.16 251.47,106.33 252.46,106.49 C253.45,106.65 254.44,106.81 255.43,106.95 C256.42,107.09 257.42,107.22 258.41,107.34 C259.4,107.46 260.39,107.57 261.39,107.67 C262.38,107.76 263.37,107.85 264.36,107.92 C265.36,107.99 266.35,108.04 267.34,108.08 C268.33,108.13 269.32,108.16 270.32,108.17 C271.31,108.18 272.3,108.18 273.29,108.16 C274.28,108.14 275.27,108.11 276.26,108.07 C277.25,108.02 278.24,107.96 279.23,107.88 C280.22,107.8 281.21,107.71 282.2,107.61 C283.19,107.5 284.18,107.38 285.16,107.25 C286.15,107.12 287.14,106.98 288.13,106.82 C289.11,106.67 290.1,106.5 291.08,106.32 C292.07,106.14 293.05,105.95 294.04,105.76 C295.02,105.56 296,105.35 296.98,105.13 C297.97,104.92 298.95,104.69 299.93,104.46 C300.91,104.23 301.89,103.99 302.87,103.74 C303.85,103.5 304.83,103.24 305.8,102.99 C306.78,102.73 307.76,102.46 308.74,102.2 C309.71,101.93 310.69,101.66 311.66,101.38 C312.64,101.11 313.61,100.83 314.58,100.55 C315.56,100.27 316.53,99.98 317.5,99.69 C318.47,99.41 319.44,99.12 320.41,98.83 C321.38,98.53 322.35,98.24 323.32,97.95 C324.29,97.65 325.26,97.35 326.23,97.06 C327.19,96.76 328.16,96.46 329.13,96.16 C330.09,95.86 331.06,95.56 332.02,95.27 C332.99,94.97 333.95,94.67 334.92,94.37 C335.88,94.07 336.85,93.77 337.81,93.48 C338.78,93.18 339.74,92.89 340.7,92.59 C341.66,92.3 342.63,92.01 343.59,91.72 C344.55,91.43 345.51,91.14 346.47,90.86 C347.43,90.57 348.4,90.29 349.36,90.01 C350.32,89.73 351.28,89.46 352.24,89.18 C353.2,88.91 354.16,88.64 355.12,88.38 C356.08,88.12 357.52,87.73 358,87.6" fill="none" stroke="#000" stroke-width="2.5"/>
<path d="M395,73.59 C395.5,73.6 397.02,73.59 398.02,73.63 C399.02,73.67 400.03,73.75 401.02,73.84 C402.02,73.94 403.02,74.06 404.02,74.19 C405.01,74.33 406.01,74.49 407,74.66 C407.99,74.83 408.98,75.02 409.97,75.21 C410.96,75.41 411.95,75.62 412.94,75.83 C413.93,76.04 414.92,76.26 415.91,76.47 C416.9,76.69 417.89,76.91 418.87,77.12 C419.86,77.33 420.85,77.54 421.84,77.75 C422.83,77.95 423.82,78.15 424.81,78.34 C425.8,78.53 426.79,78.71 427.78,78.88 C428.77,79.05 429.76,79.22 430.75,79.37 C431.75,79.53 432.74,79.67 433.73,79.81 C434.72,79.94 435.71,80.06 436.71,80.17 C437.7,80.28 438.69,80.38 439.68,80.46 C440.68,80.55 441.67,80.62 442.66,80.68 C443.65,80.73 444.65,80.77 445.64,80.8 C446.63,80.82 447.63,80.83 448.62,80.83 C449.62,80.82 450.61,80.79 451.6,80.75 C452.6,80.71 453.59,80.65 454.58,80.57 C455.58,80.49 456.57,80.38 457.56,80.27 C458.56,80.15 459.55,80.01 460.55,79.87 C461.54,79.72 462.53,79.55 463.53,79.38 C464.52,79.21 465.52,79.02 466.51,78.83 C467.51,78.64 468.5,78.44 469.5,78.23 C470.49,78.03 471.49,77.81 472.48,77.6 C473.48,77.39 474.47,77.17 475.47,76.96 C476.46,76.75 477.46,76.53 478.46,76.32 C479.45,76.11 480.45,75.91 481.45,75.71 C482.44,75.51 483.44,75.32 484.44,75.13 C485.44,74.95 486.44,74.78 487.44,74.62 C488.44,74.46 489.44,74.3 490.44,74.16 C491.44,74.02 492.44,73.89 493.44,73.77 C494.44,73.65 495.44,73.53 496.44,73.43 C497.44,73.33 498.45,73.24 499.45,73.15 C500.45,73.07 501.46,73 502.46,72.93 C503.46,72.87 504.47,72.82 505.47,72.77 C506.48,72.72 507.48,72.69 508.49,72.66 C509.5,72.63 510.5,72.61 511.51,72.6 C512.52,72.59 513.52,72.58 514.53,72.58 C515.54,72.58 516.55,72.59 517.56,72.61 C518.57,72.62 519.57,72.64 520.58,72.66 C521.59,72.68 522.6,72.71 523.61,72.74 C524.62,72.77 525.63,72.81 526.64,72.85 C527.65,72.89 528.66,72.93 529.67,72.97 C530.68,73.01 531.69,73.06 532.7,73.1 C533.71,73.15 534.72,73.2 535.73,73.24 C536.74,73.29 537.76,73.34 538.77,73.38 C539.78,73.43 540.79,73.48 541.8,73.52 C542.81,73.56 543.82,73.61 544.83,73.64 C545.84,73.68 546.85,73.72 547.86,73.76 C548.87,73.79 549.88,73.82 550.89,73.85 C551.9,73.87 552.9,73.89 553.91,73.91 C554.92,73.93 555.93,73.94 556.94,73.94 C557.95,73.95 558.95,73.95 559.96,73.94 C560.97,73.93 561.98,73.92 562.98,73.89 C563.99,73.87 565.5,73.81 566,73.8" fill="none" stroke="#000" stroke-width="2.5"/>
<ellipse cx="97.6" cy="39.2" rx="36.4" ry="13.1" fill="url(#ng)" stroke="#000" stroke-width="2.5"/>
<text x="97.9" y="44.4" text-anchor="middle" font-family="Liberation Serif" font-weight="bold" font-size="15.6">Bob</text>
<ellipse cx="97.5" cy="108.7" rx="36.0" ry="13.0" fill="url(#ng)" stroke="#000" stroke-width="2.5"/>
<text x="97.4" y="113.8" text-anchor="middle" font-family="Liberation Serif" font-weight="bold" font-size="15.6">Chloe</text>
<ellipse cx="602.2" cy="74" rx="36.3" ry="12.8" fill="url(#ng)" stroke="#000" stroke-width="2.5"/>
<text x="602.4" y="79.4" text-anchor="middle" font-family="Liberation Serif" font-weight="bold" font-size="15.6">Alice*</text>
<circle cx="375" cy="74" r="20" fill="url(#ng)" stroke="#000" stroke-width="2.5"/>
<g fill="none" stroke="#000"><path d="M368.1,68.1 V81.7" stroke-width="1.6"/><ellipse cx="368.2" cy="75.0" rx="5.45" ry="3.75" stroke-width="1.75"/></g>
<path d="M379.9,70.1 H388.5 M383.9,66.4 V74.7" fill="none" stroke="#000" stroke-width="1.2"/>
<text x="4.6" y="12.7" font-family="Liberation Serif" font-weight="bold" font-size="15">a)</text>
<text x="0.6" y="170.5" font-family="Liberation Serif" font-weight="bold" font-size="15.2">b)</text>
<text x="257" y="170.8" font-family="Liberation Serif" font-weight="bold" font-size="15.2">c)</text>
<text x="3.0" y="78.4" font-family="Liberation Serif" font-weight="bold" font-size="15.1" fill="#029e73">Bob-Chloe</text>
<text font-family="Liberation Serif" font-weight="bold" font-size="15.3" fill="#0173b2" letter-spacing="0"><textPath href="#tb" startOffset="359.86">Alice*-Bob</textPath></text>
<text font-family="Liberation Serif" font-weight="bold" font-size="15.2" fill="#de8f05" letter-spacing="0"><textPath href="#to" startOffset="211.88">Alice*-Chloe</textPath></text>
<text font-family="Liberation Serif" font-weight="bold" font-size="15.3" fill="#000" letter-spacing="0"><textPath href="#t1" startOffset="43.59">0.8km SMF,</textPath></text>
<text font-family="Liberation Serif" font-weight="bold" font-size="15.3" fill="#000" letter-spacing="0"><textPath href="#t2" startOffset="162.02">10dB</textPath></text>
<text font-family="Liberation Serif" font-weight="bold" font-size="15.6" fill="#000" letter-spacing="0"><textPath href="#t3" startOffset="30">0.8km SMF</textPath></text>
<text font-family="Liberation Serif" font-weight="bold" font-size="15.6" fill="#000" letter-spacing="0"><textPath href="#t4" startOffset="130.66">13dB</textPath></text>
<text font-family="Liberation Serif" font-weight="bold" font-size="15.2" fill="#000" letter-spacing="0"><textPath href="#t5" startOffset="15.38">11.5km HCF</textPath></text>
<text font-family="Liberation Serif" font-weight="bold" font-size="15.6" fill="#000" letter-spacing="0"><textPath href="#t6" startOffset="120.97">28dB</textPath></text>
<line x1="102" x2="102" y1="170.3" y2="257.1" stroke="#b0b0b0" stroke-width="1.1"/>
<line x1="145" x2="145" y1="170.3" y2="257.1" stroke="#b0b0b0" stroke-width="1.1"/>
<line x1="188" x2="188" y1="170.3" y2="257.1" stroke="#b0b0b0" stroke-width="1.1"/>
<line x1="59.0" x2="231.0" y1="217.25" y2="217.25" stroke="#b0b0b0" stroke-width="1.1"/>
<line x1="59.0" x2="231.0" y1="177.4" y2="177.4" stroke="#b0b0b0" stroke-width="1.1"/>
<polyline points="66.6,183.3 80.88,185.3 95.16,181 109.44,187.3 123.72,181.1 138,188.8 152.28,182.7 166.56,185.1 180.84,190.9 195.12,186.4 209.4,183.6 223.68,190.9" fill="none" stroke="#029e73" stroke-width="2.1" stroke-linejoin="round"/>
<circle cx="66.6" cy="183.3" r="3.65" fill="#029e73"/>
<circle cx="80.88" cy="185.3" r="3.65" fill="#029e73"/>
<circle cx="95.16" cy="181" r="3.65" fill="#029e73"/>
<circle cx="109.44" cy="187.3" r="3.65" fill="#029e73"/>
<circle cx="123.72" cy="181.1" r="3.65" fill="#029e73"/>
<circle cx="138" cy="188.8" r="3.65" fill="#029e73"/>
<circle cx="152.28" cy="182.7" r="3.65" fill="#029e73"/>
<circle cx="166.56" cy="185.1" r="3.65" fill="#029e73"/>
<circle cx="180.84" cy="190.9" r="3.65" fill="#029e73"/>
<circle cx="195.12" cy="186.4" r="3.65" fill="#029e73"/>
<circle cx="209.4" cy="183.6" r="3.65" fill="#029e73"/>
<circle cx="223.68" cy="190.9" r="3.65" fill="#029e73"/>
<polyline points="66.6,225.6 80.88,223.5 95.16,228.3 109.44,225.6 123.72,226.6 138,226.8 152.28,229.7 166.56,228 180.84,226.8 195.12,228.2 209.4,232.9 223.68,229.7" fill="none" stroke="#0173b2" stroke-width="2.1" stroke-linejoin="round"/>
<circle cx="66.6" cy="225.6" r="3.65" fill="#0173b2"/>
<circle cx="80.88" cy="223.5" r="3.65" fill="#0173b2"/>
<circle cx="95.16" cy="228.3" r="3.65" fill="#0173b2"/>
<circle cx="109.44" cy="225.6" r="3.65" fill="#0173b2"/>
<circle cx="123.72" cy="226.6" r="3.65" fill="#0173b2"/>
<circle cx="138" cy="226.8" r="3.65" fill="#0173b2"/>
<circle cx="152.28" cy="229.7" r="3.65" fill="#0173b2"/>
<circle cx="166.56" cy="228" r="3.65" fill="#0173b2"/>
<circle cx="180.84" cy="226.8" r="3.65" fill="#0173b2"/>
<circle cx="195.12" cy="228.2" r="3.65" fill="#0173b2"/>
<circle cx="209.4" cy="232.9" r="3.65" fill="#0173b2"/>
<circle cx="223.68" cy="229.7" r="3.65" fill="#0173b2"/>
<polyline points="66.6,245.4 80.88,239.7 95.16,246.2 109.44,240.5 123.72,244.4 138,243.2 152.28,244.1 166.56,249.1 180.84,241.5 195.12,244.4 209.4,248.8 223.68,246.8" fill="none" stroke="#de8f05" stroke-width="2.1" stroke-linejoin="round"/>
<circle cx="66.6" cy="245.4" r="3.65" fill="#de8f05"/>
<circle cx="80.88" cy="239.7" r="3.65" fill="#de8f05"/>
<circle cx="95.16" cy="246.2" r="3.65" fill="#de8f05"/>
<circle cx="109.44" cy="240.5" r="3.65" fill="#de8f05"/>
<circle cx="123.72" cy="244.4" r="3.65" fill="#de8f05"/>
<circle cx="138" cy="243.2" r="3.65" fill="#de8f05"/>
<circle cx="152.28" cy="244.1" r="3.65" fill="#de8f05"/>
<circle cx="166.56" cy="249.1" r="3.65" fill="#de8f05"/>
<circle cx="180.84" cy="241.5" r="3.65" fill="#de8f05"/>
<circle cx="195.12" cy="244.4" r="3.65" fill="#de8f05"/>
<circle cx="209.4" cy="248.8" r="3.65" fill="#de8f05"/>
<circle cx="223.68" cy="246.8" r="3.65" fill="#de8f05"/>
<rect x="59.0" y="170.3" width="172" height="86.8" fill="none" stroke="#000" stroke-width="1.4"/>
<line x1="59" x2="59" y1="257.1" y2="261.96" stroke="#000" stroke-width="1.3"/>
<text x="59" y="277" text-anchor="middle" font-family="Liberation Serif" font-size="14.4">0.0</text>
<line x1="102" x2="102" y1="257.1" y2="261.96" stroke="#000" stroke-width="1.3"/>
<text x="102" y="277" text-anchor="middle" font-family="Liberation Serif" font-size="14.4">0.5</text>
<line x1="145" x2="145" y1="257.1" y2="261.96" stroke="#000" stroke-width="1.3"/>
<text x="145" y="277" text-anchor="middle" font-family="Liberation Serif" font-size="14.4">1.0</text>
<line x1="188" x2="188" y1="257.1" y2="261.96" stroke="#000" stroke-width="1.3"/>
<text x="188" y="277" text-anchor="middle" font-family="Liberation Serif" font-size="14.4">1.5</text>
<line x1="231" x2="231" y1="257.1" y2="261.96" stroke="#000" stroke-width="1.3"/>
<text x="231" y="277" text-anchor="middle" font-family="Liberation Serif" font-size="14.4">2.0</text>
<line x1="54.14" x2="59.0" y1="257.1" y2="257.1" stroke="#000" stroke-width="1.3"/>
<text x="48.3" y="263.8" text-anchor="end" font-family="Liberation Serif" font-size="14.4">10<tspan font-size="10.3" dy="-8.3">0</tspan></text>
<line x1="54.14" x2="59.0" y1="217.25" y2="217.25" stroke="#000" stroke-width="1.3"/>
<text x="48.3" y="223.95" text-anchor="end" font-family="Liberation Serif" font-size="14.4">10<tspan font-size="10.3" dy="-8.3">1</tspan></text>
<line x1="54.14" x2="59.0" y1="177.4" y2="177.4" stroke="#000" stroke-width="1.3"/>
<text x="48.3" y="184.1" text-anchor="end" font-family="Liberation Serif" font-size="14.4">10<tspan font-size="10.3" dy="-8.3">2</tspan></text>
<line x1="56.22" x2="59.0" y1="245.1" y2="245.1" stroke="#000" stroke-width="0.8"/>
<line x1="56.22" x2="59.0" y1="238.09" y2="238.09" stroke="#000" stroke-width="0.8"/>
<line x1="56.22" x2="59.0" y1="233.11" y2="233.11" stroke="#000" stroke-width="0.8"/>
<line x1="56.22" x2="59.0" y1="229.25" y2="229.25" stroke="#000" stroke-width="0.8"/>
<line x1="56.22" x2="59.0" y1="226.09" y2="226.09" stroke="#000" stroke-width="0.8"/>
<line x1="56.22" x2="59.0" y1="223.42" y2="223.42" stroke="#000" stroke-width="0.8"/>
<line x1="56.22" x2="59.0" y1="221.11" y2="221.11" stroke="#000" stroke-width="0.8"/>
<line x1="56.22" x2="59.0" y1="219.07" y2="219.07" stroke="#000" stroke-width="0.8"/>
<line x1="56.22" x2="59.0" y1="205.25" y2="205.25" stroke="#000" stroke-width="0.8"/>
<line x1="56.22" x2="59.0" y1="198.24" y2="198.24" stroke="#000" stroke-width="0.8"/>
<line x1="56.22" x2="59.0" y1="193.26" y2="193.26" stroke="#000" stroke-width="0.8"/>
<line x1="56.22" x2="59.0" y1="189.4" y2="189.4" stroke="#000" stroke-width="0.8"/>
<line x1="56.22" x2="59.0" y1="186.24" y2="186.24" stroke="#000" stroke-width="0.8"/>
<line x1="56.22" x2="59.0" y1="183.57" y2="183.57" stroke="#000" stroke-width="0.8"/>
<line x1="56.22" x2="59.0" y1="181.26" y2="181.26" stroke="#000" stroke-width="0.8"/>
<line x1="56.22" x2="59.0" y1="179.22" y2="179.22" stroke="#000" stroke-width="0.8"/>
<text x="145" y="295.9" text-anchor="middle" font-family="Liberation Serif" font-size="14.4">Time, hours</text>
<text transform="translate(21.9,214.9) rotate(-90)" text-anchor="middle" font-family="Liberation Serif" font-size="14.4">SKR, bps</text>
<line x1="331.6" x2="331.6" y1="176.0" y2="253.8" stroke="#b0b0b0" stroke-width="1.1"/>
<line x1="366.6" x2="366.6" y1="176.0" y2="253.8" stroke="#b0b0b0" stroke-width="1.1"/>
<line x1="401.6" x2="401.6" y1="176.0" y2="253.8" stroke="#b0b0b0" stroke-width="1.1"/>
<line x1="324.6" x2="408.1" y1="250.75" y2="250.75" stroke="#b0b0b0" stroke-width="1.1"/>
<line x1="324.6" x2="408.1" y1="225.83" y2="225.83" stroke="#b0b0b0" stroke-width="1.1"/>
<line x1="324.6" x2="408.1" y1="200.92" y2="200.92" stroke="#b0b0b0" stroke-width="1.1"/>
<line x1="324.6" x2="408.1" y1="176" y2="176" stroke="#b0b0b0" stroke-width="1.1"/>
<clipPath id="cc0"><rect x="324.6" y="176.0" width="83.5" height="77.8"/></clipPath>
<g clip-path="url(#cc0)">
<polyline points="324.6,249.65 324.95,249.65 325.3,249.65 325.65,249.65 326,249.65 326.35,249.65 326.7,249.65 327.05,249.65 327.4,249.65 327.75,249.65 328.1,249.65 328.45,249.65 328.8,249.65 329.15,249.65 329.5,249.65 329.85,249.65 330.2,249.65 330.55,249.65 330.9,249.65 331.25,249.65 331.6,249.65 331.95,249.65 332.3,249.65 332.65,249.65 333,249.65 333.35,249.65 333.7,249.65 334.05,249.65 334.4,249.65 334.75,249.65 335.1,249.65 335.45,249.65 335.8,249.65 336.15,249.65 336.5,249.65 336.85,249.65 337.2,249.65 337.55,249.65 337.9,249.65 338.25,249.65 338.6,249.65 338.95,249.65 339.3,249.65 339.65,249.65 340,249.65 340.35,249.65 340.7,249.65 341.05,249.65 341.4,249.65 341.75,249.65 342.1,249.65 342.45,249.65 342.8,249.65 343.15,249.65 343.5,249.65 343.85,249.65 344.2,249.65 344.55,249.65 344.9,249.65 345.25,249.65 345.6,249.65 345.95,249.65 346.3,249.65 346.65,249.65 347,249.65 347.35,249.65 347.7,249.64 348.05,249.64 348.4,249.64 348.75,249.64 349.1,249.63 349.45,249.63 349.8,249.63 350.15,249.62 350.5,249.62 350.85,249.61 351.2,249.6 351.55,249.59 351.9,249.58 352.25,249.57 352.6,249.56 352.95,249.55 353.3,249.53 353.65,249.51 354,249.49 354.35,249.47 354.7,249.45 355.05,249.43 355.4,249.4 355.75,249.37 356.1,249.34 356.45,249.3 356.8,249.27 357.15,249.23 357.5,249.19 357.85,249.15 358.2,249.1 358.55,249.06 358.9,249.01 359.25,248.96 359.6,248.91 359.95,248.85 360.3,248.8 360.65,248.75 361,248.69 361.35,248.64 361.7,248.59 362.05,248.54 362.4,248.49 362.75,248.44 363.1,248.4 363.45,248.35 363.8,248.32 364.15,248.28 364.5,248.25 364.85,248.22 365.2,248.2 365.55,248.18 365.9,248.17 366.25,248.16 366.6,248.16 366.95,248.16 367.3,248.17 367.65,248.18 368,248.2 368.35,248.22 368.7,248.25 369.05,248.28 369.4,248.32 369.75,248.35 370.1,248.4 370.45,248.44 370.8,248.49 371.15,248.54 371.5,248.59 371.85,248.64 372.2,248.69 372.55,248.75 372.9,248.8 373.25,248.85 373.6,248.91 373.95,248.96 374.3,249.01 374.65,249.06 375,249.1 375.35,249.15 375.7,249.19 376.05,249.23 376.4,249.27 376.75,249.3 377.1,249.34 377.45,249.37 377.8,249.4 378.15,249.43 378.5,249.45 378.85,249.47 379.2,249.49 379.55,249.51 379.9,249.53 380.25,249.55 380.6,249.56 380.95,249.57 381.3,249.58 381.65,249.59 382,249.6 382.35,249.61 382.7,249.62 383.05,249.62 383.4,249.63 383.75,249.63 384.1,249.63 384.45,249.64 384.8,249.64 385.15,249.64 385.5,249.64 385.85,249.65 386.2,249.65 386.55,249.65 386.9,249.65 387.25,249.65 387.6,249.65 387.95,249.65 388.3,249.65 388.65,249.65 389,249.65 389.35,249.65 389.7,249.65 390.05,249.65 390.4,249.65 390.75,249.65 391.1,249.65 391.45,249.65 391.8,249.65 392.15,249.65 392.5,249.65 392.85,249.65 393.2,249.65 393.55,249.65 393.9,249.65 394.25,249.65 394.6,249.65 394.95,249.65 395.3,249.65 395.65,249.65 396,249.65 396.35,249.65 396.7,249.65 397.05,249.65 397.4,249.65 397.75,249.65 398.1,249.65 398.45,249.65 398.8,249.65 399.15,249.65 399.5,249.65 399.85,249.65 400.2,249.65 400.55,249.65 400.9,249.65 401.25,249.65 401.6,249.65 401.95,249.65 402.3,249.65 402.65,249.65 403,249.65 403.35,249.65 403.7,249.65 404.05,249.65 404.4,249.65 404.75,249.65 405.1,249.65 405.45,249.65 405.8,249.65 406.15,249.65 406.5,249.65 406.85,249.65 407.2,249.65 407.55,249.65 407.9,249.65 408.25,249.65 408.6,249.65" fill="none" stroke="#0b0b8a" stroke-width="2.1" stroke-linejoin="round"/>
<polyline points="324.6,249.59 324.95,249.59 325.3,249.59 325.65,249.58 326,249.58 326.35,249.58 326.7,249.58 327.05,249.57 327.4,249.57 327.75,249.57 328.1,249.56 328.45,249.56 328.8,249.56 329.15,249.55 329.5,249.55 329.85,249.54 330.2,249.54 330.55,249.54 330.9,249.53 331.25,249.53 331.6,249.52 331.95,249.52 332.3,249.51 332.65,249.5 333,249.5 333.35,249.49 333.7,249.49 334.05,249.48 334.4,249.47 334.75,249.47 335.1,249.46 335.45,249.45 335.8,249.44 336.15,249.43 336.5,249.43 336.85,249.42 337.2,249.41 337.55,249.4 337.9,249.39 338.25,249.38 338.6,249.37 338.95,249.36 339.3,249.34 339.65,249.33 340,249.32 340.35,249.31 340.7,249.29 341.05,249.28 341.4,249.26 341.75,249.25 342.1,249.23 342.45,249.22 342.8,249.2 343.15,249.18 343.5,249.16 343.85,249.14 344.2,249.12 344.55,249.1 344.9,249.08 345.25,249.06 345.6,249.03 345.95,249.01 346.3,248.98 346.65,248.95 347,248.92 347.35,248.88 347.7,248.84 348.05,248.8 348.4,248.75 348.75,248.7 349.1,248.64 349.45,248.58 349.8,248.5 350.15,248.41 350.5,248.31 350.85,248.19 351.2,248.05 351.55,247.89 351.9,247.71 352.25,247.49 352.6,247.24 352.95,246.94 353.3,246.6 353.65,246.21 354,245.76 354.35,245.23 354.7,244.64 355.05,243.96 355.4,243.19 355.75,242.32 356.1,241.35 356.45,240.27 356.8,239.07 357.15,237.74 357.5,236.28 357.85,234.7 358.2,232.99 358.55,231.14 358.9,229.17 359.25,227.08 359.6,224.88 359.95,222.58 360.3,220.19 360.65,217.74 361,215.23 361.35,212.7 361.7,210.16 362.05,207.65 362.4,205.19 362.75,202.81 363.1,200.54 363.45,198.4 363.8,196.43 364.15,194.65 364.5,193.09 364.85,191.77 365.2,190.71 365.55,189.92 365.9,189.42 366.25,189.21 366.6,189.3 366.95,189.69 367.3,190.36 367.65,191.31 368,192.53 368.35,194 368.7,195.7 369.05,197.59 369.4,199.67 369.75,201.89 370.1,204.23 370.45,206.66 370.8,209.16 371.15,211.68 371.5,214.22 371.85,216.74 372.2,219.22 372.55,221.63 372.9,223.97 373.25,226.21 373.6,228.35 373.95,230.37 374.3,232.26 374.65,234.03 375,235.67 375.35,237.17 375.7,238.55 376.05,239.8 376.4,240.93 376.75,241.95 377.1,242.86 377.45,243.66 377.8,244.38 378.15,245.01 378.5,245.56 378.85,246.04 379.2,246.45 379.55,246.81 379.9,247.13 380.25,247.39 380.6,247.63 380.95,247.82 381.3,247.99 381.65,248.14 382,248.26 382.35,248.37 382.7,248.47 383.05,248.55 383.4,248.62 383.75,248.68 384.1,248.73 384.45,248.78 384.8,248.83 385.15,248.87 385.5,248.9 385.85,248.94 386.2,248.97 386.55,249 386.9,249.02 387.25,249.05 387.6,249.07 387.95,249.09 388.3,249.12 388.65,249.14 389,249.16 389.35,249.17 389.7,249.19 390.05,249.21 390.4,249.23 390.75,249.24 391.1,249.26 391.45,249.27 391.8,249.29 392.15,249.3 392.5,249.31 392.85,249.33 393.2,249.34 393.55,249.35 393.9,249.36 394.25,249.37 394.6,249.38 394.95,249.39 395.3,249.4 395.65,249.41 396,249.42 396.35,249.43 396.7,249.44 397.05,249.45 397.4,249.46 397.75,249.46 398.1,249.47 398.45,249.48 398.8,249.48 399.15,249.49 399.5,249.5 399.85,249.5 400.2,249.51 400.55,249.51 400.9,249.52 401.25,249.52 401.6,249.53 401.95,249.53 402.3,249.54 402.65,249.54 403,249.55 403.35,249.55 403.7,249.55 404.05,249.56 404.4,249.56 404.75,249.57 405.1,249.57 405.45,249.57 405.8,249.57 406.15,249.58 406.5,249.58 406.85,249.58 407.2,249.59 407.55,249.59 407.9,249.59 408.25,249.59 408.6,249.6" fill="none" stroke="#0173b2" stroke-width="2.1" stroke-linejoin="round"/>
</g>
<rect x="324.6" y="176.0" width="83.5" height="77.8" fill="none" stroke="#000" stroke-width="1.4"/>
<line x1="331.6" x2="331.6" y1="253.8" y2="258.66" stroke="#000" stroke-width="1.3"/>
<text x="331.6" y="274" text-anchor="middle" font-family="Liberation Serif" font-size="14.4">−500</text>
<line x1="366.6" x2="366.6" y1="253.8" y2="258.66" stroke="#000" stroke-width="1.3"/>
<text x="366.6" y="274" text-anchor="middle" font-family="Liberation Serif" font-size="14.4">0</text>
<line x1="401.6" x2="401.6" y1="253.8" y2="258.66" stroke="#000" stroke-width="1.3"/>
<text x="401.6" y="274" text-anchor="middle" font-family="Liberation Serif" font-size="14.4">500</text>
<line x1="319.74" x2="324.6" y1="250.75" y2="250.75" stroke="#000" stroke-width="1.3"/>
<text x="315.1" y="255.55" text-anchor="end" font-family="Liberation Serif" font-size="14.4">0.0</text>
<line x1="319.74" x2="324.6" y1="225.83" y2="225.83" stroke="#000" stroke-width="1.3"/>
<text x="315.1" y="230.63" text-anchor="end" font-family="Liberation Serif" font-size="14.4">0.5</text>
<line x1="319.74" x2="324.6" y1="200.92" y2="200.92" stroke="#000" stroke-width="1.3"/>
<text x="315.1" y="205.72" text-anchor="end" font-family="Liberation Serif" font-size="14.4">1.0</text>
<line x1="319.74" x2="324.6" y1="176" y2="176" stroke="#000" stroke-width="1.3"/>
<text x="315.1" y="180.8" text-anchor="end" font-family="Liberation Serif" font-size="14.4">1.5</text>
<text y="292.9" font-family="Liberation Sans" font-style="italic" font-size="14.4"><tspan x="349.05">δ</tspan><tspan x="357.75" font-size="15.8">t</tspan></text>
<text x="363.75" y="292.9" font-family="Liberation Serif" font-size="14.4">, ps</text>
<line x1="468.4" x2="468.4" y1="176.0" y2="253.8" stroke="#b0b0b0" stroke-width="1.1"/>
<line x1="503.4" x2="503.4" y1="176.0" y2="253.8" stroke="#b0b0b0" stroke-width="1.1"/>
<line x1="538.4" x2="538.4" y1="176.0" y2="253.8" stroke="#b0b0b0" stroke-width="1.1"/>
<line x1="461.4" x2="545.1" y1="250.75" y2="250.75" stroke="#b0b0b0" stroke-width="1.1"/>
<line x1="461.4" x2="545.1" y1="225.83" y2="225.83" stroke="#b0b0b0" stroke-width="1.1"/>
<line x1="461.4" x2="545.1" y1="200.92" y2="200.92" stroke="#b0b0b0" stroke-width="1.1"/>
<line x1="461.4" x2="545.1" y1="176" y2="176" stroke="#b0b0b0" stroke-width="1.1"/>
<clipPath id="cc1"><rect x="461.4" y="176.0" width="83.7" height="77.8"/></clipPath>
<g clip-path="url(#cc1)">
<polyline points="461.4,249.65 461.75,249.65 462.1,249.65 462.45,249.65 462.8,249.65 463.15,249.65 463.5,249.65 463.85,249.65 464.2,249.65 464.55,249.65 464.9,249.65 465.25,249.65 465.6,249.65 465.95,249.65 466.3,249.65 466.65,249.65 467,249.65 467.35,249.65 467.7,249.65 468.05,249.65 468.4,249.65 468.75,249.65 469.1,249.65 469.45,249.65 469.8,249.65 470.15,249.65 470.5,249.65 470.85,249.65 471.2,249.65 471.55,249.65 471.9,249.65 472.25,249.65 472.6,249.65 472.95,249.65 473.3,249.65 473.65,249.65 474,249.65 474.35,249.65 474.7,249.65 475.05,249.65 475.4,249.65 475.75,249.65 476.1,249.65 476.45,249.65 476.8,249.65 477.15,249.65 477.5,249.65 477.85,249.65 478.2,249.65 478.55,249.65 478.9,249.65 479.25,249.65 479.6,249.65 479.95,249.65 480.3,249.65 480.65,249.65 481,249.65 481.35,249.65 481.7,249.65 482.05,249.65 482.4,249.65 482.75,249.65 483.1,249.65 483.45,249.65 483.8,249.64 484.15,249.64 484.5,249.64 484.85,249.64 485.2,249.63 485.55,249.63 485.9,249.62 486.25,249.62 486.6,249.61 486.95,249.6 487.3,249.59 487.65,249.58 488,249.57 488.35,249.56 488.7,249.55 489.05,249.53 489.4,249.51 489.75,249.49 490.1,249.47 490.45,249.44 490.8,249.41 491.15,249.38 491.5,249.34 491.85,249.31 492.2,249.26 492.55,249.22 492.9,249.17 493.25,249.12 493.6,249.06 493.95,249 494.3,248.94 494.65,248.88 495,248.81 495.35,248.74 495.7,248.66 496.05,248.58 496.4,248.51 496.75,248.43 497.1,248.34 497.45,248.26 497.8,248.18 498.15,248.1 498.5,248.02 498.85,247.94 499.2,247.87 499.55,247.79 499.9,247.73 500.25,247.66 500.6,247.6 500.95,247.55 501.3,247.5 501.65,247.46 502,247.42 502.35,247.4 502.7,247.38 503.05,247.37 503.4,247.36 503.75,247.37 504.1,247.38 504.45,247.4 504.8,247.42 505.15,247.46 505.5,247.5 505.85,247.55 506.2,247.6 506.55,247.66 506.9,247.73 507.25,247.79 507.6,247.87 507.95,247.94 508.3,248.02 508.65,248.1 509,248.18 509.35,248.26 509.7,248.34 510.05,248.43 510.4,248.51 510.75,248.58 511.1,248.66 511.45,248.74 511.8,248.81 512.15,248.88 512.5,248.94 512.85,249 513.2,249.06 513.55,249.12 513.9,249.17 514.25,249.22 514.6,249.26 514.95,249.31 515.3,249.34 515.65,249.38 516,249.41 516.35,249.44 516.7,249.47 517.05,249.49 517.4,249.51 517.75,249.53 518.1,249.55 518.45,249.56 518.8,249.57 519.15,249.58 519.5,249.59 519.85,249.6 520.2,249.61 520.55,249.62 520.9,249.62 521.25,249.63 521.6,249.63 521.95,249.64 522.3,249.64 522.65,249.64 523,249.64 523.35,249.65 523.7,249.65 524.05,249.65 524.4,249.65 524.75,249.65 525.1,249.65 525.45,249.65 525.8,249.65 526.15,249.65 526.5,249.65 526.85,249.65 527.2,249.65 527.55,249.65 527.9,249.65 528.25,249.65 528.6,249.65 528.95,249.65 529.3,249.65 529.65,249.65 530,249.65 530.35,249.65 530.7,249.65 531.05,249.65 531.4,249.65 531.75,249.65 532.1,249.65 532.45,249.65 532.8,249.65 533.15,249.65 533.5,249.65 533.85,249.65 534.2,249.65 534.55,249.65 534.9,249.65 535.25,249.65 535.6,249.65 535.95,249.65 536.3,249.65 536.65,249.65 537,249.65 537.35,249.65 537.7,249.65 538.05,249.65 538.4,249.65 538.75,249.65 539.1,249.65 539.45,249.65 539.8,249.65 540.15,249.65 540.5,249.65 540.85,249.65 541.2,249.65 541.55,249.65 541.9,249.65 542.25,249.65 542.6,249.65 542.95,249.65 543.3,249.65 543.65,249.65 544,249.65 544.35,249.65 544.7,249.65 545.05,249.65 545.4,249.65" fill="none" stroke="#b5400f" stroke-width="2.1" stroke-linejoin="round"/>
<polyline points="461.4,249.59 461.75,249.58 462.1,249.58 462.45,249.58 462.8,249.57 463.15,249.57 463.5,249.57 463.85,249.56 464.2,249.56 464.55,249.56 464.9,249.55 465.25,249.55 465.6,249.55 465.95,249.54 466.3,249.54 466.65,249.53 467,249.53 467.35,249.52 467.7,249.52 468.05,249.51 468.4,249.51 468.75,249.5 469.1,249.49 469.45,249.49 469.8,249.48 470.15,249.47 470.5,249.47 470.85,249.46 471.2,249.45 471.55,249.45 471.9,249.44 472.25,249.43 472.6,249.42 472.95,249.41 473.3,249.4 473.65,249.39 474,249.38 474.35,249.37 474.7,249.36 475.05,249.35 475.4,249.34 475.75,249.32 476.1,249.31 476.45,249.3 476.8,249.28 477.15,249.27 477.5,249.25 477.85,249.24 478.2,249.22 478.55,249.21 478.9,249.19 479.25,249.17 479.6,249.15 479.95,249.13 480.3,249.11 480.65,249.09 481,249.07 481.35,249.05 481.7,249.02 482.05,249 482.4,248.97 482.75,248.94 483.1,248.92 483.45,248.88 483.8,248.85 484.15,248.82 484.5,248.78 484.85,248.74 485.2,248.7 485.55,248.65 485.9,248.6 486.25,248.54 486.6,248.47 486.95,248.39 487.3,248.3 487.65,248.2 488,248.07 488.35,247.93 488.7,247.76 489.05,247.57 489.4,247.34 489.75,247.06 490.1,246.74 490.45,246.36 490.8,245.92 491.15,245.41 491.5,244.82 491.85,244.13 492.2,243.34 492.55,242.45 492.9,241.42 493.25,240.27 493.6,238.98 493.95,237.54 494.3,235.95 494.65,234.2 495,232.3 495.35,230.24 495.7,228.02 496.05,225.67 496.4,223.18 496.75,220.57 497.1,217.87 497.45,215.09 497.8,212.27 498.15,209.43 498.5,206.61 498.85,203.83 499.2,201.15 499.55,198.59 499.9,196.19 500.25,194 500.6,192.04 500.95,190.34 501.3,188.95 501.65,187.86 502,187.12 502.35,186.73 502.7,186.69 503.05,187.01 503.4,187.69 503.75,188.7 504.1,190.04 504.45,191.68 504.8,193.59 505.15,195.74 505.5,198.1 505.85,200.63 506.2,203.29 506.55,206.05 506.9,208.86 507.25,211.7 507.6,214.53 507.95,217.32 508.3,220.04 508.65,222.67 509,225.18 509.35,227.56 509.7,229.81 510.05,231.9 510.4,233.83 510.75,235.61 511.1,237.24 511.45,238.7 511.8,240.03 512.15,241.2 512.5,242.25 512.85,243.17 513.2,243.98 513.55,244.69 513.9,245.3 514.25,245.83 514.6,246.28 514.95,246.67 515.3,247 515.65,247.28 516,247.52 516.35,247.73 516.7,247.9 517.05,248.05 517.4,248.17 517.75,248.28 518.1,248.37 518.45,248.45 518.8,248.52 519.15,248.58 519.5,248.64 519.85,248.69 520.2,248.73 520.55,248.77 520.9,248.81 521.25,248.85 521.6,248.88 521.95,248.91 522.3,248.94 522.65,248.97 523,248.99 523.35,249.02 523.7,249.04 524.05,249.06 524.4,249.09 524.75,249.11 525.1,249.13 525.45,249.15 525.8,249.17 526.15,249.18 526.5,249.2 526.85,249.22 527.2,249.24 527.55,249.25 527.9,249.27 528.25,249.28 528.6,249.29 528.95,249.31 529.3,249.32 529.65,249.33 530,249.35 530.35,249.36 530.7,249.37 531.05,249.38 531.4,249.39 531.75,249.4 532.1,249.41 532.45,249.42 532.8,249.43 533.15,249.44 533.5,249.44 533.85,249.45 534.2,249.46 534.55,249.47 534.9,249.47 535.25,249.48 535.6,249.49 535.95,249.49 536.3,249.5 536.65,249.51 537,249.51 537.35,249.52 537.7,249.52 538.05,249.53 538.4,249.53 538.75,249.54 539.1,249.54 539.45,249.54 539.8,249.55 540.15,249.55 540.5,249.56 540.85,249.56 541.2,249.56 541.55,249.57 541.9,249.57 542.25,249.57 542.6,249.58 542.95,249.58 543.3,249.58 543.65,249.58 544,249.59 544.35,249.59 544.7,249.59 545.05,249.59 545.4,249.6" fill="none" stroke="#de8f05" stroke-width="2.1" stroke-linejoin="round"/>
</g>
<rect x="461.4" y="176.0" width="83.7" height="77.8" fill="none" stroke="#000" stroke-width="1.4"/>
<line x1="468.4" x2="468.4" y1="253.8" y2="258.66" stroke="#000" stroke-width="1.3"/>
<text x="468.4" y="274" text-anchor="middle" font-family="Liberation Serif" font-size="14.4">−500</text>
<line x1="503.4" x2="503.4" y1="253.8" y2="258.66" stroke="#000" stroke-width="1.3"/>
<text x="503.4" y="274" text-anchor="middle" font-family="Liberation Serif" font-size="14.4">0</text>
<line x1="538.4" x2="538.4" y1="253.8" y2="258.66" stroke="#000" stroke-width="1.3"/>
<text x="538.4" y="274" text-anchor="middle" font-family="Liberation Serif" font-size="14.4">500</text>
<line x1="456.54" x2="461.4" y1="250.75" y2="250.75" stroke="#000" stroke-width="1.3"/>
<text x="451.9" y="255.55" text-anchor="end" font-family="Liberation Serif" font-size="14.4">0.00</text>
<line x1="456.54" x2="461.4" y1="225.83" y2="225.83" stroke="#000" stroke-width="1.3"/>
<text x="451.9" y="230.63" text-anchor="end" font-family="Liberation Serif" font-size="14.4">0.25</text>
<line x1="456.54" x2="461.4" y1="200.92" y2="200.92" stroke="#000" stroke-width="1.3"/>
<text x="451.9" y="205.72" text-anchor="end" font-family="Liberation Serif" font-size="14.4">0.50</text>
<line x1="456.54" x2="461.4" y1="176" y2="176" stroke="#000" stroke-width="1.3"/>
<text x="451.9" y="180.8" text-anchor="end" font-family="Liberation Serif" font-size="14.4">0.75</text>
<text y="292.9" font-family="Liberation Sans" font-style="italic" font-size="14.4"><tspan x="485.95">δ</tspan><tspan x="494.65" font-size="15.8">t</tspan></text>
<text x="500.65" y="292.9" font-family="Liberation Serif" font-size="14.4">, ps</text>
<line x1="605.1" x2="605.1" y1="176.0" y2="253.8" stroke="#b0b0b0" stroke-width="1.1"/>
<line x1="640.1" x2="640.1" y1="176.0" y2="253.8" stroke="#b0b0b0" stroke-width="1.1"/>
<line x1="675.1" x2="675.1" y1="176.0" y2="253.8" stroke="#b0b0b0" stroke-width="1.1"/>
<line x1="598.1" x2="681.6" y1="250.75" y2="250.75" stroke="#b0b0b0" stroke-width="1.1"/>
<line x1="598.1" x2="681.6" y1="232.06" y2="232.06" stroke="#b0b0b0" stroke-width="1.1"/>
<line x1="598.1" x2="681.6" y1="213.38" y2="213.38" stroke="#b0b0b0" stroke-width="1.1"/>
<line x1="598.1" x2="681.6" y1="194.69" y2="194.69" stroke="#b0b0b0" stroke-width="1.1"/>
<line x1="598.1" x2="681.6" y1="176" y2="176" stroke="#b0b0b0" stroke-width="1.1"/>
<clipPath id="cc2"><rect x="598.1" y="176.0" width="83.5" height="77.8"/></clipPath>
<g clip-path="url(#cc2)">
<polyline points="598.1,249.82 598.45,249.82 598.8,249.82 599.15,249.82 599.5,249.82 599.85,249.82 600.2,249.82 600.55,249.82 600.9,249.82 601.25,249.82 601.6,249.82 601.95,249.82 602.3,249.82 602.65,249.82 603,249.82 603.35,249.82 603.7,249.82 604.05,249.82 604.4,249.82 604.75,249.82 605.1,249.82 605.45,249.82 605.8,249.82 606.15,249.82 606.5,249.82 606.85,249.82 607.2,249.82 607.55,249.82 607.9,249.82 608.25,249.82 608.6,249.82 608.95,249.82 609.3,249.82 609.65,249.82 610,249.82 610.35,249.82 610.7,249.82 611.05,249.82 611.4,249.82 611.75,249.82 612.1,249.82 612.45,249.82 612.8,249.82 613.15,249.82 613.5,249.82 613.85,249.82 614.2,249.82 614.55,249.82 614.9,249.82 615.25,249.82 615.6,249.82 615.95,249.81 616.3,249.81 616.65,249.81 617,249.81 617.35,249.81 617.7,249.81 618.05,249.81 618.4,249.81 618.75,249.81 619.1,249.81 619.45,249.81 619.8,249.81 620.15,249.81 620.5,249.8 620.85,249.8 621.2,249.8 621.55,249.8 621.9,249.79 622.25,249.79 622.6,249.78 622.95,249.77 623.3,249.77 623.65,249.76 624,249.75 624.35,249.74 624.7,249.72 625.05,249.71 625.4,249.69 625.75,249.67 626.1,249.65 626.45,249.63 626.8,249.6 627.15,249.57 627.5,249.54 627.85,249.5 628.2,249.46 628.55,249.42 628.9,249.37 629.25,249.32 629.6,249.26 629.95,249.21 630.3,249.14 630.65,249.07 631,249 631.35,248.93 631.7,248.85 632.05,248.77 632.4,248.68 632.75,248.6 633.1,248.51 633.45,248.41 633.8,248.32 634.15,248.23 634.5,248.14 634.85,248.04 635.2,247.95 635.55,247.86 635.9,247.78 636.25,247.69 636.6,247.62 636.95,247.54 637.3,247.47 637.65,247.41 638,247.36 638.35,247.31 638.7,247.27 639.05,247.24 639.4,247.22 639.75,247.2 640.1,247.2 640.45,247.2 640.8,247.22 641.15,247.24 641.5,247.27 641.85,247.31 642.2,247.36 642.55,247.41 642.9,247.47 643.25,247.54 643.6,247.62 643.95,247.69 644.3,247.78 644.65,247.86 645,247.95 645.35,248.04 645.7,248.14 646.05,248.23 646.4,248.32 646.75,248.41 647.1,248.51 647.45,248.6 647.8,248.68 648.15,248.77 648.5,248.85 648.85,248.93 649.2,249 649.55,249.07 649.9,249.14 650.25,249.21 650.6,249.26 650.95,249.32 651.3,249.37 651.65,249.42 652,249.46 652.35,249.5 652.7,249.54 653.05,249.57 653.4,249.6 653.75,249.63 654.1,249.65 654.45,249.67 654.8,249.69 655.15,249.71 655.5,249.72 655.85,249.74 656.2,249.75 656.55,249.76 656.9,249.77 657.25,249.77 657.6,249.78 657.95,249.79 658.3,249.79 658.65,249.8 659,249.8 659.35,249.8 659.7,249.8 660.05,249.81 660.4,249.81 660.75,249.81 661.1,249.81 661.45,249.81 661.8,249.81 662.15,249.81 662.5,249.81 662.85,249.81 663.2,249.81 663.55,249.81 663.9,249.81 664.25,249.81 664.6,249.82 664.95,249.82 665.3,249.82 665.65,249.82 666,249.82 666.35,249.82 666.7,249.82 667.05,249.82 667.4,249.82 667.75,249.82 668.1,249.82 668.45,249.82 668.8,249.82 669.15,249.82 669.5,249.82 669.85,249.82 670.2,249.82 670.55,249.82 670.9,249.82 671.25,249.82 671.6,249.82 671.95,249.82 672.3,249.82 672.65,249.82 673,249.82 673.35,249.82 673.7,249.82 674.05,249.82 674.4,249.82 674.75,249.82 675.1,249.82 675.45,249.82 675.8,249.82 676.15,249.82 676.5,249.82 676.85,249.82 677.2,249.82 677.55,249.82 677.9,249.82 678.25,249.82 678.6,249.82 678.95,249.82 679.3,249.82 679.65,249.82 680,249.82 680.35,249.82 680.7,249.82 681.05,249.82 681.4,249.82 681.75,249.82 682.1,249.82" fill="none" stroke="#1f6e0f" stroke-width="2.1" stroke-linejoin="round"/>
<polyline points="598.1,249.82 598.45,249.82 598.8,249.82 599.15,249.81 599.5,249.81 599.85,249.81 600.2,249.81 600.55,249.81 600.9,249.81 601.25,249.81 601.6,249.81 601.95,249.81 602.3,249.81 602.65,249.81 603,249.81 603.35,249.81 603.7,249.81 604.05,249.81 604.4,249.81 604.75,249.81 605.1,249.81 605.45,249.81 605.8,249.81 606.15,249.81 606.5,249.81 606.85,249.81 607.2,249.81 607.55,249.81 607.9,249.81 608.25,249.81 608.6,249.81 608.95,249.8 609.3,249.8 609.65,249.8 610,249.8 610.35,249.8 610.7,249.8 611.05,249.8 611.4,249.79 611.75,249.79 612.1,249.79 612.45,249.79 612.8,249.78 613.15,249.78 613.5,249.78 613.85,249.77 614.2,249.77 614.55,249.76 614.9,249.76 615.25,249.75 615.6,249.74 615.95,249.73 616.3,249.73 616.65,249.72 617,249.71 617.35,249.69 617.7,249.68 618.05,249.67 618.4,249.65 618.75,249.63 619.1,249.61 619.45,249.59 619.8,249.57 620.15,249.54 620.5,249.51 620.85,249.48 621.2,249.45 621.55,249.41 621.9,249.36 622.25,249.32 622.6,249.26 622.95,249.2 623.3,249.14 623.65,249.06 624,248.98 624.35,248.88 624.7,248.78 625.05,248.66 625.4,248.52 625.75,248.37 626.1,248.2 626.45,248.01 626.8,247.78 627.15,247.53 627.5,247.24 627.85,246.91 628.2,246.54 628.55,246.11 628.9,245.62 629.25,245.07 629.6,244.44 629.95,243.73 630.3,242.92 630.65,242.01 631,240.99 631.35,239.85 631.7,238.58 632.05,237.17 632.4,235.62 632.75,233.91 633.1,232.05 633.45,230.03 633.8,227.84 634.15,225.51 634.5,223.02 634.85,220.4 635.2,217.65 635.55,214.81 635.9,211.89 636.25,208.94 636.6,206 636.95,203.12 637.3,200.36 637.65,197.78 638,195.46 638.35,193.45 638.7,191.84 639.05,190.67 639.4,190 639.75,189.84 640.1,190.21 640.45,191.08 640.8,192.43 641.15,194.21 641.5,196.35 641.85,198.79 642.2,201.45 642.55,204.26 642.9,207.18 643.25,210.13 643.6,213.07 643.95,215.96 644.3,218.76 644.65,221.46 645,224.03 645.35,226.46 645.7,228.74 646.05,230.85 646.4,232.81 646.75,234.61 647.1,236.26 647.45,237.75 647.8,239.11 648.15,240.32 648.5,241.42 648.85,242.39 649.2,243.26 649.55,244.02 649.9,244.7 650.25,245.3 650.6,245.83 650.95,246.29 651.3,246.69 651.65,247.05 652,247.36 652.35,247.64 652.7,247.88 653.05,248.09 653.4,248.27 653.75,248.44 654.1,248.58 654.45,248.71 654.8,248.82 655.15,248.92 655.5,249.01 655.85,249.09 656.2,249.16 656.55,249.23 656.9,249.28 657.25,249.34 657.6,249.38 657.95,249.42 658.3,249.46 658.65,249.5 659,249.53 659.35,249.55 659.7,249.58 660.05,249.6 660.4,249.62 660.75,249.64 661.1,249.66 661.45,249.67 661.8,249.69 662.15,249.7 662.5,249.71 662.85,249.72 663.2,249.73 663.55,249.74 663.9,249.74 664.25,249.75 664.6,249.76 664.95,249.76 665.3,249.77 665.65,249.77 666,249.78 666.35,249.78 666.7,249.78 667.05,249.79 667.4,249.79 667.75,249.79 668.1,249.79 668.45,249.8 668.8,249.8 669.15,249.8 669.5,249.8 669.85,249.8 670.2,249.8 670.55,249.8 670.9,249.81 671.25,249.81 671.6,249.81 671.95,249.81 672.3,249.81 672.65,249.81 673,249.81 673.35,249.81 673.7,249.81 674.05,249.81 674.4,249.81 674.75,249.81 675.1,249.81 675.45,249.81 675.8,249.81 676.15,249.81 676.5,249.81 676.85,249.81 677.2,249.81 677.55,249.81 677.9,249.81 678.25,249.81 678.6,249.81 678.95,249.81 679.3,249.81 679.65,249.81 680,249.81 680.35,249.81 680.7,249.82 681.05,249.82 681.4,249.82 681.75,249.82 682.1,249.82" fill="none" stroke="#029e73" stroke-width="2.1" stroke-linejoin="round"/>
</g>
<rect x="598.1" y="176.0" width="83.5" height="77.8" fill="none" stroke="#000" stroke-width="1.4"/>
<line x1="605.1" x2="605.1" y1="253.8" y2="258.66" stroke="#000" stroke-width="1.3"/>
<text x="605.1" y="274" text-anchor="middle" font-family="Liberation Serif" font-size="14.4">−500</text>
<line x1="640.1" x2="640.1" y1="253.8" y2="258.66" stroke="#000" stroke-width="1.3"/>
<text x="640.1" y="274" text-anchor="middle" font-family="Liberation Serif" font-size="14.4">0</text>
<line x1="675.1" x2="675.1" y1="253.8" y2="258.66" stroke="#000" stroke-width="1.3"/>
<text x="675.1" y="274" text-anchor="middle" font-family="Liberation Serif" font-size="14.4">500</text>
<line x1="593.24" x2="598.1" y1="250.75" y2="250.75" stroke="#000" stroke-width="1.3"/>
<text x="588.6" y="255.55" text-anchor="end" font-family="Liberation Serif" font-size="14.4">0</text>
<line x1="593.24" x2="598.1" y1="232.06" y2="232.06" stroke="#000" stroke-width="1.3"/>
<text x="588.6" y="236.86" text-anchor="end" font-family="Liberation Serif" font-size="14.4">5</text>
<line x1="593.24" x2="598.1" y1="213.38" y2="213.38" stroke="#000" stroke-width="1.3"/>
<text x="588.6" y="218.18" text-anchor="end" font-family="Liberation Serif" font-size="14.4">10</text>
<line x1="593.24" x2="598.1" y1="194.69" y2="194.69" stroke="#000" stroke-width="1.3"/>
<text x="588.6" y="199.49" text-anchor="end" font-family="Liberation Serif" font-size="14.4">15</text>
<line x1="593.24" x2="598.1" y1="176" y2="176" stroke="#000" stroke-width="1.3"/>
<text x="588.6" y="180.8" text-anchor="end" font-family="Liberation Serif" font-size="14.4">20</text>
<text y="292.9" font-family="Liberation Sans" font-style="italic" font-size="14.4"><tspan x="622.55">δ</tspan><tspan x="631.25" font-size="15.8">t</tspan></text>
<text x="637.25" y="292.9" font-family="Liberation Serif" font-size="14.4">, ps</text>
<g transform="translate(289.2,268.9) rotate(-90)"><text x="-0.3" y="0" font-family="Liberation Serif" font-size="15" textLength="87.4" lengthAdjust="spacingAndGlyphs">Correlations, s</text><path d="M88.8,-10 H95.3" stroke="#000" stroke-width="0.95"/><path d="M97.2,-6.75 H102 M99.6,-6.3 V-14.3 L97.6,-12.9" fill="none" stroke="#000" stroke-width="1.05"/></g>
</svg></body></html>
